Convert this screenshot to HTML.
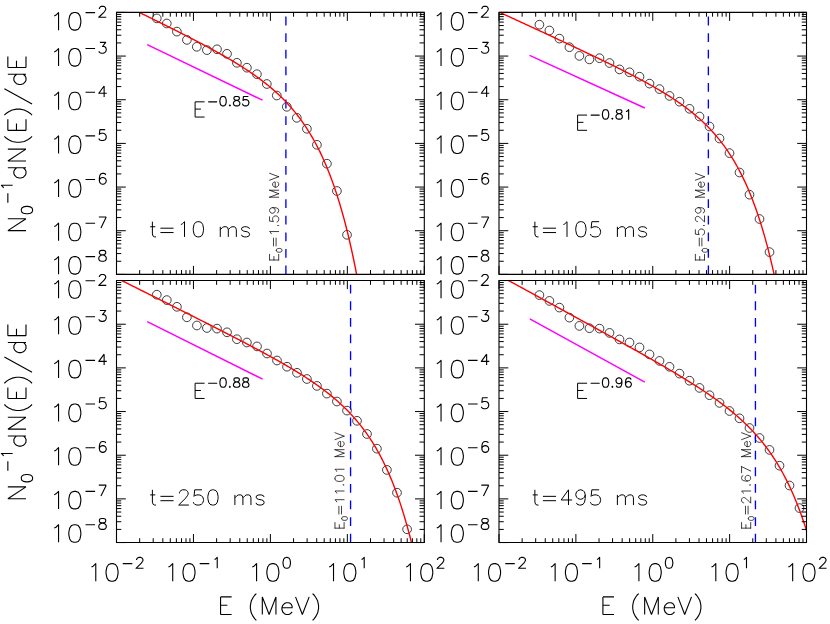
<!DOCTYPE html>
<html><head><meta charset="utf-8"><title>Spectra</title>
<style>html,body{margin:0;padding:0;background:#fff;font-family:"Liberation Sans",sans-serif;overflow:hidden}svg{display:block;position:absolute;left:0;top:0}</style>
</head><body>
<svg width="830" height="624" viewBox="0 0 830 624">
<rect width="830" height="624" fill="#fff"/>
<clipPath id="c1"><rect x="116.5" y="12.4" width="308.2" height="262"/></clipPath>
<g fill="none" stroke="#000" stroke-width="0.75" clip-path="url(#c1)"><circle cx="156.8" cy="18.4" r="4.35"/><circle cx="166.8" cy="23.5" r="4.35"/><circle cx="176.9" cy="31.6" r="4.35"/><circle cx="186.9" cy="39.9" r="4.35"/><circle cx="196.8" cy="46.8" r="4.35"/><circle cx="206.9" cy="50.1" r="4.35"/><circle cx="217" cy="49.3" r="4.35"/><circle cx="227" cy="53.8" r="4.35"/><circle cx="236.9" cy="62.8" r="4.35"/><circle cx="246.9" cy="67.7" r="4.35"/><circle cx="256.9" cy="74.2" r="4.35"/><circle cx="266.8" cy="84" r="4.35"/><circle cx="276.8" cy="95.5" r="4.35"/><circle cx="286.8" cy="106.8" r="4.35"/><circle cx="296.8" cy="117.8" r="4.35"/><circle cx="306.9" cy="128.8" r="4.35"/><circle cx="316.9" cy="144.8" r="4.35"/><circle cx="326.9" cy="163.7" r="4.35"/><circle cx="336.9" cy="191" r="4.35"/><circle cx="347" cy="234.8" r="4.35"/></g>
<line x1="285.9" y1="274.4" x2="285.9" y2="12.4" stroke="#00f" stroke-width="1.35" stroke-dasharray="8.8 7.8"/>
<line x1="147.2" y1="44.7" x2="262.5" y2="100.2" stroke="#f0f" stroke-width="1.45"/>
<path d="M112.65 -0.57 L113.87 0.02 L115.09 0.61 L116.31 1.2 L117.53 1.8 L118.74 2.39 L119.96 2.98 L121.18 3.57 L122.4 4.16 L123.62 4.76 L124.83 5.35 L126.05 5.94 L127.27 6.54 L128.49 7.13 L129.71 7.72 L130.92 8.32 L132.14 8.91 L133.36 9.51 L134.58 10.1 L135.8 10.7 L137.02 11.29 L138.23 11.89 L139.45 12.49 L140.67 13.08 L141.89 13.68 L143.11 14.28 L144.32 14.87 L145.54 15.47 L146.76 16.07 L147.98 16.67 L149.2 17.27 L150.41 17.87 L151.63 18.47 L152.85 19.07 L154.07 19.67 L155.29 20.27 L156.51 20.87 L157.72 21.47 L158.94 22.07 L160.16 22.68 L161.38 23.28 L162.6 23.89 L163.81 24.49 L165.03 25.1 L166.25 25.7 L167.47 26.31 L168.69 26.92 L169.9 27.53 L171.12 28.14 L172.34 28.75 L173.56 29.36 L174.78 29.97 L176 30.58 L177.21 31.2 L178.43 31.81 L179.65 32.43 L180.87 33.04 L182.09 33.66 L183.3 34.28 L184.52 34.9 L185.74 35.52 L186.96 36.15 L188.18 36.77 L189.39 37.39 L190.61 38.02 L191.83 38.65 L193.05 39.28 L194.27 39.91 L195.49 40.54 L196.7 41.18 L197.92 41.81 L199.14 42.45 L200.36 43.09 L201.58 43.73 L202.79 44.38 L204.01 45.02 L205.23 45.67 L206.45 46.32 L207.67 46.98 L208.88 47.63 L210.1 48.29 L211.32 48.95 L212.54 49.61 L213.76 50.28 L214.98 50.95 L216.19 51.62 L217.41 52.3 L218.63 52.97 L219.85 53.65 L221.07 54.34 L222.28 55.03 L223.5 55.72 L224.72 56.42 L225.94 57.12 L227.16 57.82 L228.37 58.53 L229.59 59.25 L230.81 59.96 L232.03 60.69 L233.25 61.41 L234.47 62.15 L235.68 62.89 L236.9 63.63 L238.12 64.38 L239.34 65.14 L240.56 65.9 L241.77 66.67 L242.99 67.44 L244.21 68.23 L245.43 69.02 L246.65 69.81 L247.86 70.62 L249.08 71.43 L250.3 72.25 L251.52 73.08 L252.74 73.92 L253.96 74.77 L255.17 75.63 L256.39 76.5 L257.61 77.38 L258.83 78.27 L260.05 79.17 L261.26 80.08 L262.48 81 L263.7 81.94 L264.92 82.89 L266.14 83.85 L267.35 84.83 L268.57 85.82 L269.79 86.83 L271.01 87.85 L272.23 88.89 L273.45 89.94 L274.66 91.02 L275.88 92.11 L277.1 93.22 L278.32 94.35 L279.54 95.49 L280.75 96.66 L281.97 97.86 L283.19 99.07 L284.41 100.31 L285.63 101.57 L286.84 102.85 L288.06 104.16 L289.28 105.5 L290.5 106.87 L291.72 108.27 L292.94 109.69 L294.15 111.15 L295.37 112.64 L296.59 114.16 L297.81 115.72 L299.03 117.31 L300.24 118.94 L301.46 120.61 L302.68 122.32 L303.9 124.07 L305.12 125.86 L306.33 127.7 L307.55 129.59 L308.77 131.52 L309.99 133.5 L311.21 135.54 L312.43 137.63 L313.64 139.77 L314.86 141.97 L316.08 144.24 L317.3 146.56 L318.52 148.95 L319.73 151.41 L320.95 153.93 L322.17 156.53 L323.39 159.2 L324.61 161.95 L325.82 164.78 L327.04 167.69 L328.26 170.69 L329.48 173.78 L330.7 176.96 L331.92 180.24 L333.13 183.62 L334.35 187.1 L335.57 190.68 L336.79 194.38 L338.01 198.2 L339.22 202.14 L340.44 206.2 L341.66 210.38 L342.88 214.71 L344.1 219.17 L345.31 223.77 L346.53 228.52 L347.75 233.43 L348.97 238.5 L350.19 243.74 L351.41 249.14 L352.62 254.73 L353.84 260.5 L355.06 266.47 L356.28 272.63 L357.5 279 L358.71 285.59 L359.93 292.4 L361.15 299.44 L362.37 306.72 L363.59 314.24 L364.8 322.03" fill="none" stroke="#f00" stroke-width="1.4" stroke-linejoin="round" clip-path="url(#c1)"/>
<clipPath id="c2"><rect x="499" y="12.4" width="307.9" height="262"/></clipPath>
<g fill="none" stroke="#000" stroke-width="0.75" clip-path="url(#c2)"><circle cx="539.4" cy="24.7" r="4.35"/><circle cx="549.4" cy="30.5" r="4.35"/><circle cx="559.4" cy="38.6" r="4.35"/><circle cx="569.4" cy="47.2" r="4.35"/><circle cx="579.4" cy="55.9" r="4.35"/><circle cx="589.4" cy="59.4" r="4.35"/><circle cx="599.5" cy="58.2" r="4.35"/><circle cx="609.5" cy="63" r="4.35"/><circle cx="619.5" cy="69.4" r="4.35"/><circle cx="629.5" cy="72.3" r="4.35"/><circle cx="639.5" cy="76.7" r="4.35"/><circle cx="649.5" cy="83.6" r="4.35"/><circle cx="659.5" cy="89.1" r="4.35"/><circle cx="669.5" cy="95.9" r="4.35"/><circle cx="679.5" cy="101.7" r="4.35"/><circle cx="689.5" cy="108.8" r="4.35"/><circle cx="699.5" cy="116.5" r="4.35"/><circle cx="709.5" cy="126.5" r="4.35"/><circle cx="719.5" cy="138.5" r="4.35"/><circle cx="729.5" cy="153.1" r="4.35"/><circle cx="739.5" cy="172.5" r="4.35"/><circle cx="749.5" cy="194.7" r="4.35"/><circle cx="759.5" cy="219" r="4.35"/><circle cx="769.5" cy="252.1" r="4.35"/></g>
<line x1="708.37" y1="274.4" x2="708.37" y2="12.4" stroke="#00f" stroke-width="1.35" stroke-dasharray="8.8 7.8"/>
<line x1="529.6" y1="55.3" x2="644.8" y2="108" stroke="#f0f" stroke-width="1.45"/>
<path d="M495.16 10.23 L496.37 10.79 L497.59 11.35 L498.81 11.91 L500.02 12.47 L501.24 13.03 L502.46 13.59 L503.67 14.16 L504.89 14.72 L506.11 15.28 L507.33 15.84 L508.54 16.4 L509.76 16.96 L510.98 17.52 L512.19 18.09 L513.41 18.65 L514.63 19.21 L515.84 19.77 L517.06 20.33 L518.28 20.9 L519.5 21.46 L520.71 22.02 L521.93 22.58 L523.15 23.15 L524.36 23.71 L525.58 24.27 L526.8 24.83 L528.01 25.4 L529.23 25.96 L530.45 26.52 L531.66 27.09 L532.88 27.65 L534.1 28.21 L535.32 28.78 L536.53 29.34 L537.75 29.91 L538.97 30.47 L540.18 31.03 L541.4 31.6 L542.62 32.16 L543.83 32.73 L545.05 33.29 L546.27 33.86 L547.48 34.42 L548.7 34.99 L549.92 35.56 L551.14 36.12 L552.35 36.69 L553.57 37.25 L554.79 37.82 L556 38.39 L557.22 38.96 L558.44 39.52 L559.65 40.09 L560.87 40.66 L562.09 41.23 L563.3 41.8 L564.52 42.36 L565.74 42.93 L566.96 43.5 L568.17 44.07 L569.39 44.64 L570.61 45.22 L571.82 45.79 L573.04 46.36 L574.26 46.93 L575.47 47.5 L576.69 48.08 L577.91 48.65 L579.13 49.22 L580.34 49.8 L581.56 50.37 L582.78 50.95 L583.99 51.53 L585.21 52.1 L586.43 52.68 L587.64 53.26 L588.86 53.84 L590.08 54.42 L591.29 55 L592.51 55.58 L593.73 56.16 L594.95 56.74 L596.16 57.33 L597.38 57.91 L598.6 58.5 L599.81 59.08 L601.03 59.67 L602.25 60.26 L603.46 60.85 L604.68 61.44 L605.9 62.03 L607.11 62.62 L608.33 63.21 L609.55 63.81 L610.77 64.41 L611.98 65 L613.2 65.6 L614.42 66.2 L615.63 66.81 L616.85 67.41 L618.07 68.01 L619.28 68.62 L620.5 69.23 L621.72 69.84 L622.93 70.45 L624.15 71.07 L625.37 71.68 L626.59 72.3 L627.8 72.92 L629.02 73.55 L630.24 74.17 L631.45 74.8 L632.67 75.43 L633.89 76.06 L635.1 76.7 L636.32 77.34 L637.54 77.98 L638.76 78.62 L639.97 79.27 L641.19 79.92 L642.41 80.57 L643.62 81.23 L644.84 81.89 L646.06 82.56 L647.27 83.23 L648.49 83.9 L649.71 84.58 L650.92 85.26 L652.14 85.94 L653.36 86.63 L654.58 87.33 L655.79 88.03 L657.01 88.74 L658.23 89.45 L659.44 90.16 L660.66 90.89 L661.88 91.61 L663.09 92.35 L664.31 93.09 L665.53 93.84 L666.74 94.59 L667.96 95.36 L669.18 96.13 L670.4 96.9 L671.61 97.69 L672.83 98.48 L674.05 99.29 L675.26 100.1 L676.48 100.92 L677.7 101.75 L678.91 102.59 L680.13 103.44 L681.35 104.3 L682.57 105.18 L683.78 106.06 L685 106.96 L686.22 107.87 L687.43 108.79 L688.65 109.73 L689.87 110.68 L691.08 111.64 L692.3 112.62 L693.52 113.62 L694.73 114.63 L695.95 115.66 L697.17 116.7 L698.39 117.76 L699.6 118.85 L700.82 119.95 L702.04 121.07 L703.25 122.21 L704.47 123.38 L705.69 124.56 L706.9 125.77 L708.12 127 L709.34 128.26 L710.55 129.55 L711.77 130.86 L712.99 132.2 L714.21 133.57 L715.42 134.97 L716.64 136.4 L717.86 137.86 L719.07 139.35 L720.29 140.88 L721.51 142.45 L722.72 144.05 L723.94 145.7 L725.16 147.38 L726.37 149.1 L727.59 150.87 L728.81 152.68 L730.03 154.54 L731.24 156.45 L732.46 158.4 L733.68 160.41 L734.89 162.47 L736.11 164.59 L737.33 166.77 L738.54 169 L739.76 171.3 L740.98 173.67 L742.2 176.1 L743.41 178.59 L744.63 181.17 L745.85 183.81 L747.06 186.53 L748.28 189.34 L749.5 192.23 L750.71 195.2 L751.93 198.26 L753.15 201.42 L754.36 204.67 L755.58 208.02 L756.8 211.48 L758.02 215.04 L759.23 218.71 L760.45 222.5 L761.67 226.41 L762.88 230.45 L764.1 234.61 L765.32 238.91 L766.53 243.35 L767.75 247.93 L768.97 252.66 L770.18 257.54 L771.4 262.58 L772.62 267.8 L773.84 273.18 L775.05 278.74 L776.27 284.49 L777.49 290.43 L778.7 296.57 L779.92 302.92 L781.14 309.48 L782.35 316.27" fill="none" stroke="#f00" stroke-width="1.4" stroke-linejoin="round" clip-path="url(#c2)"/>
<clipPath id="c3"><rect x="116.5" y="280.55" width="308.2" height="262"/></clipPath>
<g fill="none" stroke="#000" stroke-width="0.75" clip-path="url(#c3)"><circle cx="156.8" cy="294.7" r="4.35"/><circle cx="166.8" cy="300.1" r="4.35"/><circle cx="176.9" cy="306.8" r="4.35"/><circle cx="186.9" cy="317.3" r="4.35"/><circle cx="196.9" cy="325.5" r="4.35"/><circle cx="206.9" cy="328" r="4.35"/><circle cx="217" cy="328.6" r="4.35"/><circle cx="227" cy="332.3" r="4.35"/><circle cx="236.9" cy="339.2" r="4.35"/><circle cx="246.9" cy="342.5" r="4.35"/><circle cx="257" cy="346.4" r="4.35"/><circle cx="267" cy="353.5" r="4.35"/><circle cx="277" cy="360.5" r="4.35"/><circle cx="287" cy="366.7" r="4.35"/><circle cx="297" cy="372.8" r="4.35"/><circle cx="306.9" cy="379" r="4.35"/><circle cx="316.9" cy="385.9" r="4.35"/><circle cx="326.9" cy="393.6" r="4.35"/><circle cx="336.9" cy="401.5" r="4.35"/><circle cx="347" cy="410.6" r="4.35"/><circle cx="357" cy="420.8" r="4.35"/><circle cx="367" cy="434" r="4.35"/><circle cx="376.9" cy="448.7" r="4.35"/><circle cx="386.9" cy="469.9" r="4.35"/><circle cx="397" cy="492.7" r="4.35"/><circle cx="407.1" cy="529.3" r="4.35"/></g>
<line x1="350.57" y1="542.55" x2="350.57" y2="280.55" stroke="#00f" stroke-width="1.35" stroke-dasharray="8.8 7.8"/>
<line x1="147.2" y1="321.7" x2="262.7" y2="379.2" stroke="#f0f" stroke-width="1.45"/>
<path d="M112.65 276.02 L113.87 276.63 L115.09 277.24 L116.31 277.85 L117.53 278.46 L118.74 279.07 L119.96 279.68 L121.18 280.29 L122.4 280.9 L123.62 281.5 L124.83 282.11 L126.05 282.72 L127.27 283.33 L128.49 283.94 L129.71 284.55 L130.92 285.16 L132.14 285.77 L133.36 286.38 L134.58 286.99 L135.8 287.6 L137.02 288.21 L138.23 288.82 L139.45 289.43 L140.67 290.04 L141.89 290.64 L143.11 291.25 L144.32 291.86 L145.54 292.47 L146.76 293.08 L147.98 293.69 L149.2 294.3 L150.41 294.91 L151.63 295.52 L152.85 296.13 L154.07 296.74 L155.29 297.35 L156.51 297.96 L157.72 298.57 L158.94 299.19 L160.16 299.8 L161.38 300.41 L162.6 301.02 L163.81 301.63 L165.03 302.24 L166.25 302.85 L167.47 303.46 L168.69 304.07 L169.9 304.68 L171.12 305.3 L172.34 305.91 L173.56 306.52 L174.78 307.13 L176 307.74 L177.21 308.35 L178.43 308.97 L179.65 309.58 L180.87 310.19 L182.09 310.8 L183.3 311.42 L184.52 312.03 L185.74 312.64 L186.96 313.26 L188.18 313.87 L189.39 314.48 L190.61 315.1 L191.83 315.71 L193.05 316.33 L194.27 316.94 L195.49 317.56 L196.7 318.17 L197.92 318.79 L199.14 319.4 L200.36 320.02 L201.58 320.63 L202.79 321.25 L204.01 321.87 L205.23 322.48 L206.45 323.1 L207.67 323.72 L208.88 324.34 L210.1 324.96 L211.32 325.57 L212.54 326.19 L213.76 326.81 L214.98 327.43 L216.19 328.05 L217.41 328.68 L218.63 329.3 L219.85 329.92 L221.07 330.54 L222.28 331.16 L223.5 331.79 L224.72 332.41 L225.94 333.04 L227.16 333.66 L228.37 334.29 L229.59 334.91 L230.81 335.54 L232.03 336.17 L233.25 336.8 L234.47 337.43 L235.68 338.06 L236.9 338.69 L238.12 339.32 L239.34 339.95 L240.56 340.59 L241.77 341.22 L242.99 341.86 L244.21 342.49 L245.43 343.13 L246.65 343.77 L247.86 344.41 L249.08 345.05 L250.3 345.69 L251.52 346.33 L252.74 346.98 L253.96 347.62 L255.17 348.27 L256.39 348.92 L257.61 349.57 L258.83 350.22 L260.05 350.88 L261.26 351.53 L262.48 352.19 L263.7 352.85 L264.92 353.51 L266.14 354.17 L267.35 354.84 L268.57 355.5 L269.79 356.17 L271.01 356.84 L272.23 357.52 L273.45 358.19 L274.66 358.87 L275.88 359.55 L277.1 360.23 L278.32 360.92 L279.54 361.61 L280.75 362.3 L281.97 363 L283.19 363.7 L284.41 364.4 L285.63 365.1 L286.84 365.81 L288.06 366.53 L289.28 367.24 L290.5 367.96 L291.72 368.69 L292.94 369.42 L294.15 370.15 L295.37 370.89 L296.59 371.63 L297.81 372.38 L299.03 373.13 L300.24 373.89 L301.46 374.66 L302.68 375.43 L303.9 376.2 L305.12 376.99 L306.33 377.78 L307.55 378.57 L308.77 379.37 L309.99 380.18 L311.21 381 L312.43 381.83 L313.64 382.66 L314.86 383.5 L316.08 384.35 L317.3 385.21 L318.52 386.08 L319.73 386.96 L320.95 387.85 L322.17 388.74 L323.39 389.65 L324.61 390.57 L325.82 391.51 L327.04 392.45 L328.26 393.41 L329.48 394.38 L330.7 395.36 L331.92 396.36 L333.13 397.37 L334.35 398.39 L335.57 399.43 L336.79 400.49 L338.01 401.57 L339.22 402.66 L340.44 403.77 L341.66 404.9 L342.88 406.04 L344.1 407.21 L345.31 408.4 L346.53 409.61 L347.75 410.84 L348.97 412.1 L350.19 413.38 L351.41 414.68 L352.62 416.01 L353.84 417.37 L355.06 418.75 L356.28 420.17 L357.5 421.61 L358.71 423.09 L359.93 424.59 L361.15 426.13 L362.37 427.71 L363.59 429.32 L364.8 430.97 L366.02 432.65 L367.24 434.38 L368.46 436.15 L369.68 437.96 L370.9 439.81 L372.11 441.71 L373.33 443.66 L374.55 445.66 L375.77 447.71 L376.99 449.82 L378.2 451.98 L379.42 454.2 L380.64 456.48 L381.86 458.82 L383.08 461.22 L384.29 463.69 L385.51 466.23 L386.73 468.84 L387.95 471.53 L389.17 474.29 L390.39 477.13 L391.6 480.06 L392.82 483.07 L394.04 486.17 L395.26 489.37 L396.48 492.66 L397.69 496.05 L398.91 499.54 L400.13 503.14 L401.35 506.85 L402.57 510.67 L403.78 514.62 L405 518.69 L406.22 522.89 L407.44 527.22 L408.66 531.69 L409.88 536.3 L411.09 541.06 L412.31 545.98 L413.53 551.05 L414.75 556.29 L415.97 561.7 L417.18 567.3 L418.4 573.07 L419.62 579.04 L420.84 585.21" fill="none" stroke="#f00" stroke-width="1.4" stroke-linejoin="round" clip-path="url(#c3)"/>
<clipPath id="c4"><rect x="499" y="280.55" width="307.9" height="262"/></clipPath>
<g fill="none" stroke="#000" stroke-width="0.75" clip-path="url(#c4)"><circle cx="539.4" cy="295.1" r="4.35"/><circle cx="549.4" cy="300.9" r="4.35"/><circle cx="559.4" cy="307.6" r="4.35"/><circle cx="569.4" cy="317.6" r="4.35"/><circle cx="579.4" cy="325.9" r="4.35"/><circle cx="589.5" cy="328.2" r="4.35"/><circle cx="599.5" cy="328.6" r="4.35"/><circle cx="609.5" cy="332.9" r="4.35"/><circle cx="619.5" cy="339.4" r="4.35"/><circle cx="629.5" cy="342.5" r="4.35"/><circle cx="639.5" cy="347.4" r="4.35"/><circle cx="649.5" cy="354.4" r="4.35"/><circle cx="659.5" cy="360.9" r="4.35"/><circle cx="669.5" cy="366.8" r="4.35"/><circle cx="679.5" cy="373.6" r="4.35"/><circle cx="689.5" cy="380.7" r="4.35"/><circle cx="699.5" cy="387.9" r="4.35"/><circle cx="709.5" cy="395.2" r="4.35"/><circle cx="719.5" cy="402.9" r="4.35"/><circle cx="729.5" cy="411" r="4.35"/><circle cx="739.5" cy="418.3" r="4.35"/><circle cx="749.5" cy="428" r="4.35"/><circle cx="759.5" cy="438" r="4.35"/><circle cx="769.5" cy="449.9" r="4.35"/><circle cx="779.5" cy="465.7" r="4.35"/><circle cx="789.5" cy="485.5" r="4.35"/><circle cx="799.5" cy="508.1" r="4.35"/></g>
<line x1="755.44" y1="542.55" x2="755.44" y2="280.55" stroke="#00f" stroke-width="1.35" stroke-dasharray="8.8 7.8"/>
<line x1="529.8" y1="318.8" x2="644.8" y2="382.1" stroke="#f0f" stroke-width="1.45"/>
<path d="M495.16 273.22 L496.37 273.89 L497.59 274.55 L498.81 275.21 L500.02 275.88 L501.24 276.54 L502.46 277.21 L503.67 277.87 L504.89 278.53 L506.11 279.2 L507.33 279.86 L508.54 280.53 L509.76 281.19 L510.98 281.85 L512.19 282.52 L513.41 283.18 L514.63 283.85 L515.84 284.51 L517.06 285.17 L518.28 285.84 L519.5 286.5 L520.71 287.17 L521.93 287.83 L523.15 288.49 L524.36 289.16 L525.58 289.82 L526.8 290.49 L528.01 291.15 L529.23 291.82 L530.45 292.48 L531.66 293.15 L532.88 293.81 L534.1 294.47 L535.32 295.14 L536.53 295.8 L537.75 296.47 L538.97 297.13 L540.18 297.8 L541.4 298.46 L542.62 299.13 L543.83 299.79 L545.05 300.46 L546.27 301.12 L547.48 301.79 L548.7 302.45 L549.92 303.12 L551.14 303.78 L552.35 304.45 L553.57 305.11 L554.79 305.78 L556 306.44 L557.22 307.11 L558.44 307.77 L559.65 308.44 L560.87 309.1 L562.09 309.77 L563.3 310.44 L564.52 311.1 L565.74 311.77 L566.96 312.43 L568.17 313.1 L569.39 313.77 L570.61 314.43 L571.82 315.1 L573.04 315.76 L574.26 316.43 L575.47 317.1 L576.69 317.76 L577.91 318.43 L579.13 319.1 L580.34 319.77 L581.56 320.43 L582.78 321.1 L583.99 321.77 L585.21 322.44 L586.43 323.1 L587.64 323.77 L588.86 324.44 L590.08 325.11 L591.29 325.78 L592.51 326.45 L593.73 327.11 L594.95 327.78 L596.16 328.45 L597.38 329.12 L598.6 329.79 L599.81 330.46 L601.03 331.13 L602.25 331.8 L603.46 332.47 L604.68 333.15 L605.9 333.82 L607.11 334.49 L608.33 335.16 L609.55 335.83 L610.77 336.5 L611.98 337.18 L613.2 337.85 L614.42 338.52 L615.63 339.2 L616.85 339.87 L618.07 340.55 L619.28 341.22 L620.5 341.9 L621.72 342.57 L622.93 343.25 L624.15 343.93 L625.37 344.6 L626.59 345.28 L627.8 345.96 L629.02 346.64 L630.24 347.32 L631.45 348 L632.67 348.68 L633.89 349.36 L635.1 350.04 L636.32 350.73 L637.54 351.41 L638.76 352.09 L639.97 352.78 L641.19 353.46 L642.41 354.15 L643.62 354.84 L644.84 355.53 L646.06 356.22 L647.27 356.91 L648.49 357.6 L649.71 358.29 L650.92 358.98 L652.14 359.68 L653.36 360.37 L654.58 361.07 L655.79 361.77 L657.01 362.47 L658.23 363.17 L659.44 363.87 L660.66 364.57 L661.88 365.28 L663.09 365.98 L664.31 366.69 L665.53 367.4 L666.74 368.11 L667.96 368.83 L669.18 369.54 L670.4 370.26 L671.61 370.98 L672.83 371.7 L674.05 372.42 L675.26 373.14 L676.48 373.87 L677.7 374.6 L678.91 375.33 L680.13 376.07 L681.35 376.81 L682.57 377.55 L683.78 378.29 L685 379.03 L686.22 379.78 L687.43 380.54 L688.65 381.29 L689.87 382.05 L691.08 382.81 L692.3 383.58 L693.52 384.35 L694.73 385.12 L695.95 385.9 L697.17 386.68 L698.39 387.47 L699.6 388.26 L700.82 389.06 L702.04 389.86 L703.25 390.66 L704.47 391.47 L705.69 392.29 L706.9 393.11 L708.12 393.94 L709.34 394.77 L710.55 395.61 L711.77 396.46 L712.99 397.32 L714.21 398.18 L715.42 399.04 L716.64 399.92 L717.86 400.8 L719.07 401.7 L720.29 402.6 L721.51 403.51 L722.72 404.42 L723.94 405.35 L725.16 406.29 L726.37 407.24 L727.59 408.2 L728.81 409.16 L730.03 410.15 L731.24 411.14 L732.46 412.14 L733.68 413.16 L734.89 414.19 L736.11 415.23 L737.33 416.29 L738.54 417.37 L739.76 418.45 L740.98 419.56 L742.2 420.68 L743.41 421.81 L744.63 422.97 L745.85 424.14 L747.06 425.33 L748.28 426.54 L749.5 427.78 L750.71 429.03 L751.93 430.3 L753.15 431.6 L754.36 432.92 L755.58 434.27 L756.8 435.64 L758.02 437.03 L759.23 438.46 L760.45 439.91 L761.67 441.39 L762.88 442.9 L764.1 444.45 L765.32 446.02 L766.53 447.63 L767.75 449.28 L768.97 450.96 L770.18 452.68 L771.4 454.44 L772.62 456.24 L773.84 458.08 L775.05 459.96 L776.27 461.89 L777.49 463.87 L778.7 465.89 L779.92 467.97 L781.14 470.1 L782.35 472.28 L783.57 474.52 L784.79 476.82 L786 479.18 L787.22 481.6 L788.44 484.09 L789.66 486.64 L790.87 489.27 L792.09 491.97 L793.31 494.74 L794.52 497.59 L795.74 500.53 L796.96 503.54 L798.17 506.65 L799.39 509.84 L800.61 513.13 L801.83 516.52 L803.04 520.01 L804.26 523.6 L805.48 527.3 L806.69 531.12 L807.91 535.05 L809.13 539.1 L810.34 543.28" fill="none" stroke="#f00" stroke-width="1.4" stroke-linejoin="round" clip-path="url(#c4)"/>
<path d="M116.5 12.4H424.3V274.4H116.5ZM499 12.4H806.5V274.4H499ZM116.5 280.55H424.3V542.55H116.5ZM499 280.55H806.5V542.55H499Z" fill="none" stroke="#000" stroke-width="1.1" stroke-linejoin="miter"/>
<path d="M116.5 12.4v8.5M116.5 274.4v-8.5M139.66 12.4v4.3M139.66 274.4v-4.3M153.21 12.4v4.3M153.21 274.4v-4.3M162.83 12.4v4.3M162.83 274.4v-4.3M170.29 12.4v4.3M170.29 274.4v-4.3M176.38 12.4v4.3M176.38 274.4v-4.3M181.53 12.4v4.3M181.53 274.4v-4.3M185.99 12.4v4.3M185.99 274.4v-4.3M189.93 12.4v4.3M189.93 274.4v-4.3M193.45 12.4v8.5M193.45 274.4v-8.5M216.61 12.4v4.3M216.61 274.4v-4.3M230.16 12.4v4.3M230.16 274.4v-4.3M239.78 12.4v4.3M239.78 274.4v-4.3M247.24 12.4v4.3M247.24 274.4v-4.3M253.33 12.4v4.3M253.33 274.4v-4.3M258.48 12.4v4.3M258.48 274.4v-4.3M262.94 12.4v4.3M262.94 274.4v-4.3M266.88 12.4v4.3M266.88 274.4v-4.3M270.4 12.4v8.5M270.4 274.4v-8.5M293.56 12.4v4.3M293.56 274.4v-4.3M307.11 12.4v4.3M307.11 274.4v-4.3M316.73 12.4v4.3M316.73 274.4v-4.3M324.19 12.4v4.3M324.19 274.4v-4.3M330.28 12.4v4.3M330.28 274.4v-4.3M335.43 12.4v4.3M335.43 274.4v-4.3M339.89 12.4v4.3M339.89 274.4v-4.3M343.83 12.4v4.3M343.83 274.4v-4.3M347.35 12.4v8.5M347.35 274.4v-8.5M370.51 12.4v4.3M370.51 274.4v-4.3M384.06 12.4v4.3M384.06 274.4v-4.3M393.68 12.4v4.3M393.68 274.4v-4.3M401.14 12.4v4.3M401.14 274.4v-4.3M407.23 12.4v4.3M407.23 274.4v-4.3M412.38 12.4v4.3M412.38 274.4v-4.3M416.84 12.4v4.3M416.84 274.4v-4.3M420.78 12.4v4.3M420.78 274.4v-4.3M424.3 12.4v8.5M424.3 274.4v-8.5M116.5 274.4h9.3M424.3 274.4h-9.3M116.5 261.26h4.75M424.3 261.26h-4.75M116.5 253.57h4.75M424.3 253.57h-4.75M116.5 248.11h4.75M424.3 248.11h-4.75M116.5 243.88h4.75M424.3 243.88h-4.75M116.5 240.42h4.75M424.3 240.42h-4.75M116.5 237.5h4.75M424.3 237.5h-4.75M116.5 234.97h4.75M424.3 234.97h-4.75M116.5 232.73h4.75M424.3 232.73h-4.75M116.5 230.73h9.3M424.3 230.73h-9.3M116.5 217.59h4.75M424.3 217.59h-4.75M116.5 209.9h4.75M424.3 209.9h-4.75M116.5 204.44h4.75M424.3 204.44h-4.75M116.5 200.21h4.75M424.3 200.21h-4.75M116.5 196.75h4.75M424.3 196.75h-4.75M116.5 193.83h4.75M424.3 193.83h-4.75M116.5 191.3h4.75M424.3 191.3h-4.75M116.5 189.06h4.75M424.3 189.06h-4.75M116.5 187.07h9.3M424.3 187.07h-9.3M116.5 173.92h4.75M424.3 173.92h-4.75M116.5 166.23h4.75M424.3 166.23h-4.75M116.5 160.78h4.75M424.3 160.78h-4.75M116.5 156.54h4.75M424.3 156.54h-4.75M116.5 153.09h4.75M424.3 153.09h-4.75M116.5 150.16h4.75M424.3 150.16h-4.75M116.5 147.63h4.75M424.3 147.63h-4.75M116.5 145.4h4.75M424.3 145.4h-4.75M116.5 143.4h9.3M424.3 143.4h-9.3M116.5 130.26h4.75M424.3 130.26h-4.75M116.5 122.57h4.75M424.3 122.57h-4.75M116.5 117.11h4.75M424.3 117.11h-4.75M116.5 112.88h4.75M424.3 112.88h-4.75M116.5 109.42h4.75M424.3 109.42h-4.75M116.5 106.5h4.75M424.3 106.5h-4.75M116.5 103.97h4.75M424.3 103.97h-4.75M116.5 101.73h4.75M424.3 101.73h-4.75M116.5 99.73h9.3M424.3 99.73h-9.3M116.5 86.59h4.75M424.3 86.59h-4.75M116.5 78.9h4.75M424.3 78.9h-4.75M116.5 73.44h4.75M424.3 73.44h-4.75M116.5 69.21h4.75M424.3 69.21h-4.75M116.5 65.75h4.75M424.3 65.75h-4.75M116.5 62.83h4.75M424.3 62.83h-4.75M116.5 60.3h4.75M424.3 60.3h-4.75M116.5 58.06h4.75M424.3 58.06h-4.75M116.5 56.07h9.3M424.3 56.07h-9.3M116.5 42.92h4.75M424.3 42.92h-4.75M116.5 35.23h4.75M424.3 35.23h-4.75M116.5 29.78h4.75M424.3 29.78h-4.75M116.5 25.54h4.75M424.3 25.54h-4.75M116.5 22.09h4.75M424.3 22.09h-4.75M116.5 19.16h4.75M424.3 19.16h-4.75M116.5 16.63h4.75M424.3 16.63h-4.75M116.5 14.4h4.75M424.3 14.4h-4.75M116.5 12.4h9.3M424.3 12.4h-9.3M499 12.4v8.5M499 274.4v-8.5M522.14 12.4v4.3M522.14 274.4v-4.3M535.68 12.4v4.3M535.68 274.4v-4.3M545.28 12.4v4.3M545.28 274.4v-4.3M552.73 12.4v4.3M552.73 274.4v-4.3M558.82 12.4v4.3M558.82 274.4v-4.3M563.97 12.4v4.3M563.97 274.4v-4.3M568.43 12.4v4.3M568.43 274.4v-4.3M572.36 12.4v4.3M572.36 274.4v-4.3M575.88 12.4v8.5M575.88 274.4v-8.5M599.02 12.4v4.3M599.02 274.4v-4.3M612.55 12.4v4.3M612.55 274.4v-4.3M622.16 12.4v4.3M622.16 274.4v-4.3M629.61 12.4v4.3M629.61 274.4v-4.3M635.7 12.4v4.3M635.7 274.4v-4.3M640.84 12.4v4.3M640.84 274.4v-4.3M645.3 12.4v4.3M645.3 274.4v-4.3M649.23 12.4v4.3M649.23 274.4v-4.3M652.75 12.4v8.5M652.75 274.4v-8.5M675.89 12.4v4.3M675.89 274.4v-4.3M689.43 12.4v4.3M689.43 274.4v-4.3M699.03 12.4v4.3M699.03 274.4v-4.3M706.48 12.4v4.3M706.48 274.4v-4.3M712.57 12.4v4.3M712.57 274.4v-4.3M717.72 12.4v4.3M717.72 274.4v-4.3M722.18 12.4v4.3M722.18 274.4v-4.3M726.11 12.4v4.3M726.11 274.4v-4.3M729.62 12.4v8.5M729.62 274.4v-8.5M752.77 12.4v4.3M752.77 274.4v-4.3M766.3 12.4v4.3M766.3 274.4v-4.3M775.91 12.4v4.3M775.91 274.4v-4.3M783.36 12.4v4.3M783.36 274.4v-4.3M789.45 12.4v4.3M789.45 274.4v-4.3M794.59 12.4v4.3M794.59 274.4v-4.3M799.05 12.4v4.3M799.05 274.4v-4.3M802.98 12.4v4.3M802.98 274.4v-4.3M806.5 12.4v8.5M806.5 274.4v-8.5M499 274.4h9.3M806.5 274.4h-9.3M499 261.26h4.75M806.5 261.26h-4.75M499 253.57h4.75M806.5 253.57h-4.75M499 248.11h4.75M806.5 248.11h-4.75M499 243.88h4.75M806.5 243.88h-4.75M499 240.42h4.75M806.5 240.42h-4.75M499 237.5h4.75M806.5 237.5h-4.75M499 234.97h4.75M806.5 234.97h-4.75M499 232.73h4.75M806.5 232.73h-4.75M499 230.73h9.3M806.5 230.73h-9.3M499 217.59h4.75M806.5 217.59h-4.75M499 209.9h4.75M806.5 209.9h-4.75M499 204.44h4.75M806.5 204.44h-4.75M499 200.21h4.75M806.5 200.21h-4.75M499 196.75h4.75M806.5 196.75h-4.75M499 193.83h4.75M806.5 193.83h-4.75M499 191.3h4.75M806.5 191.3h-4.75M499 189.06h4.75M806.5 189.06h-4.75M499 187.07h9.3M806.5 187.07h-9.3M499 173.92h4.75M806.5 173.92h-4.75M499 166.23h4.75M806.5 166.23h-4.75M499 160.78h4.75M806.5 160.78h-4.75M499 156.54h4.75M806.5 156.54h-4.75M499 153.09h4.75M806.5 153.09h-4.75M499 150.16h4.75M806.5 150.16h-4.75M499 147.63h4.75M806.5 147.63h-4.75M499 145.4h4.75M806.5 145.4h-4.75M499 143.4h9.3M806.5 143.4h-9.3M499 130.26h4.75M806.5 130.26h-4.75M499 122.57h4.75M806.5 122.57h-4.75M499 117.11h4.75M806.5 117.11h-4.75M499 112.88h4.75M806.5 112.88h-4.75M499 109.42h4.75M806.5 109.42h-4.75M499 106.5h4.75M806.5 106.5h-4.75M499 103.97h4.75M806.5 103.97h-4.75M499 101.73h4.75M806.5 101.73h-4.75M499 99.73h9.3M806.5 99.73h-9.3M499 86.59h4.75M806.5 86.59h-4.75M499 78.9h4.75M806.5 78.9h-4.75M499 73.44h4.75M806.5 73.44h-4.75M499 69.21h4.75M806.5 69.21h-4.75M499 65.75h4.75M806.5 65.75h-4.75M499 62.83h4.75M806.5 62.83h-4.75M499 60.3h4.75M806.5 60.3h-4.75M499 58.06h4.75M806.5 58.06h-4.75M499 56.07h9.3M806.5 56.07h-9.3M499 42.92h4.75M806.5 42.92h-4.75M499 35.23h4.75M806.5 35.23h-4.75M499 29.78h4.75M806.5 29.78h-4.75M499 25.54h4.75M806.5 25.54h-4.75M499 22.09h4.75M806.5 22.09h-4.75M499 19.16h4.75M806.5 19.16h-4.75M499 16.63h4.75M806.5 16.63h-4.75M499 14.4h4.75M806.5 14.4h-4.75M499 12.4h9.3M806.5 12.4h-9.3M116.5 280.55v8.5M116.5 542.55v-8.5M139.66 280.55v4.3M139.66 542.55v-4.3M153.21 280.55v4.3M153.21 542.55v-4.3M162.83 280.55v4.3M162.83 542.55v-4.3M170.29 280.55v4.3M170.29 542.55v-4.3M176.38 280.55v4.3M176.38 542.55v-4.3M181.53 280.55v4.3M181.53 542.55v-4.3M185.99 280.55v4.3M185.99 542.55v-4.3M189.93 280.55v4.3M189.93 542.55v-4.3M193.45 280.55v8.5M193.45 542.55v-8.5M216.61 280.55v4.3M216.61 542.55v-4.3M230.16 280.55v4.3M230.16 542.55v-4.3M239.78 280.55v4.3M239.78 542.55v-4.3M247.24 280.55v4.3M247.24 542.55v-4.3M253.33 280.55v4.3M253.33 542.55v-4.3M258.48 280.55v4.3M258.48 542.55v-4.3M262.94 280.55v4.3M262.94 542.55v-4.3M266.88 280.55v4.3M266.88 542.55v-4.3M270.4 280.55v8.5M270.4 542.55v-8.5M293.56 280.55v4.3M293.56 542.55v-4.3M307.11 280.55v4.3M307.11 542.55v-4.3M316.73 280.55v4.3M316.73 542.55v-4.3M324.19 280.55v4.3M324.19 542.55v-4.3M330.28 280.55v4.3M330.28 542.55v-4.3M335.43 280.55v4.3M335.43 542.55v-4.3M339.89 280.55v4.3M339.89 542.55v-4.3M343.83 280.55v4.3M343.83 542.55v-4.3M347.35 280.55v8.5M347.35 542.55v-8.5M370.51 280.55v4.3M370.51 542.55v-4.3M384.06 280.55v4.3M384.06 542.55v-4.3M393.68 280.55v4.3M393.68 542.55v-4.3M401.14 280.55v4.3M401.14 542.55v-4.3M407.23 280.55v4.3M407.23 542.55v-4.3M412.38 280.55v4.3M412.38 542.55v-4.3M416.84 280.55v4.3M416.84 542.55v-4.3M420.78 280.55v4.3M420.78 542.55v-4.3M424.3 280.55v8.5M424.3 542.55v-8.5M116.5 542.55h9.3M424.3 542.55h-9.3M116.5 529.41h4.75M424.3 529.41h-4.75M116.5 521.72h4.75M424.3 521.72h-4.75M116.5 516.26h4.75M424.3 516.26h-4.75M116.5 512.03h4.75M424.3 512.03h-4.75M116.5 508.57h4.75M424.3 508.57h-4.75M116.5 505.65h4.75M424.3 505.65h-4.75M116.5 503.12h4.75M424.3 503.12h-4.75M116.5 500.88h4.75M424.3 500.88h-4.75M116.5 498.88h9.3M424.3 498.88h-9.3M116.5 485.74h4.75M424.3 485.74h-4.75M116.5 478.05h4.75M424.3 478.05h-4.75M116.5 472.59h4.75M424.3 472.59h-4.75M116.5 468.36h4.75M424.3 468.36h-4.75M116.5 464.9h4.75M424.3 464.9h-4.75M116.5 461.98h4.75M424.3 461.98h-4.75M116.5 459.45h4.75M424.3 459.45h-4.75M116.5 457.21h4.75M424.3 457.21h-4.75M116.5 455.22h9.3M424.3 455.22h-9.3M116.5 442.07h4.75M424.3 442.07h-4.75M116.5 434.38h4.75M424.3 434.38h-4.75M116.5 428.93h4.75M424.3 428.93h-4.75M116.5 424.69h4.75M424.3 424.69h-4.75M116.5 421.24h4.75M424.3 421.24h-4.75M116.5 418.31h4.75M424.3 418.31h-4.75M116.5 415.78h4.75M424.3 415.78h-4.75M116.5 413.55h4.75M424.3 413.55h-4.75M116.5 411.55h9.3M424.3 411.55h-9.3M116.5 398.41h4.75M424.3 398.41h-4.75M116.5 390.72h4.75M424.3 390.72h-4.75M116.5 385.26h4.75M424.3 385.26h-4.75M116.5 381.03h4.75M424.3 381.03h-4.75M116.5 377.57h4.75M424.3 377.57h-4.75M116.5 374.65h4.75M424.3 374.65h-4.75M116.5 372.12h4.75M424.3 372.12h-4.75M116.5 369.88h4.75M424.3 369.88h-4.75M116.5 367.88h9.3M424.3 367.88h-9.3M116.5 354.74h4.75M424.3 354.74h-4.75M116.5 347.05h4.75M424.3 347.05h-4.75M116.5 341.59h4.75M424.3 341.59h-4.75M116.5 337.36h4.75M424.3 337.36h-4.75M116.5 333.9h4.75M424.3 333.9h-4.75M116.5 330.98h4.75M424.3 330.98h-4.75M116.5 328.45h4.75M424.3 328.45h-4.75M116.5 326.21h4.75M424.3 326.21h-4.75M116.5 324.22h9.3M424.3 324.22h-9.3M116.5 311.07h4.75M424.3 311.07h-4.75M116.5 303.38h4.75M424.3 303.38h-4.75M116.5 297.93h4.75M424.3 297.93h-4.75M116.5 293.69h4.75M424.3 293.69h-4.75M116.5 290.24h4.75M424.3 290.24h-4.75M116.5 287.31h4.75M424.3 287.31h-4.75M116.5 284.78h4.75M424.3 284.78h-4.75M116.5 282.55h4.75M424.3 282.55h-4.75M116.5 280.55h9.3M424.3 280.55h-9.3M499 280.55v8.5M499 542.55v-8.5M522.14 280.55v4.3M522.14 542.55v-4.3M535.68 280.55v4.3M535.68 542.55v-4.3M545.28 280.55v4.3M545.28 542.55v-4.3M552.73 280.55v4.3M552.73 542.55v-4.3M558.82 280.55v4.3M558.82 542.55v-4.3M563.97 280.55v4.3M563.97 542.55v-4.3M568.43 280.55v4.3M568.43 542.55v-4.3M572.36 280.55v4.3M572.36 542.55v-4.3M575.88 280.55v8.5M575.88 542.55v-8.5M599.02 280.55v4.3M599.02 542.55v-4.3M612.55 280.55v4.3M612.55 542.55v-4.3M622.16 280.55v4.3M622.16 542.55v-4.3M629.61 280.55v4.3M629.61 542.55v-4.3M635.7 280.55v4.3M635.7 542.55v-4.3M640.84 280.55v4.3M640.84 542.55v-4.3M645.3 280.55v4.3M645.3 542.55v-4.3M649.23 280.55v4.3M649.23 542.55v-4.3M652.75 280.55v8.5M652.75 542.55v-8.5M675.89 280.55v4.3M675.89 542.55v-4.3M689.43 280.55v4.3M689.43 542.55v-4.3M699.03 280.55v4.3M699.03 542.55v-4.3M706.48 280.55v4.3M706.48 542.55v-4.3M712.57 280.55v4.3M712.57 542.55v-4.3M717.72 280.55v4.3M717.72 542.55v-4.3M722.18 280.55v4.3M722.18 542.55v-4.3M726.11 280.55v4.3M726.11 542.55v-4.3M729.62 280.55v8.5M729.62 542.55v-8.5M752.77 280.55v4.3M752.77 542.55v-4.3M766.3 280.55v4.3M766.3 542.55v-4.3M775.91 280.55v4.3M775.91 542.55v-4.3M783.36 280.55v4.3M783.36 542.55v-4.3M789.45 280.55v4.3M789.45 542.55v-4.3M794.59 280.55v4.3M794.59 542.55v-4.3M799.05 280.55v4.3M799.05 542.55v-4.3M802.98 280.55v4.3M802.98 542.55v-4.3M806.5 280.55v8.5M806.5 542.55v-8.5M499 542.55h9.3M806.5 542.55h-9.3M499 529.41h4.75M806.5 529.41h-4.75M499 521.72h4.75M806.5 521.72h-4.75M499 516.26h4.75M806.5 516.26h-4.75M499 512.03h4.75M806.5 512.03h-4.75M499 508.57h4.75M806.5 508.57h-4.75M499 505.65h4.75M806.5 505.65h-4.75M499 503.12h4.75M806.5 503.12h-4.75M499 500.88h4.75M806.5 500.88h-4.75M499 498.88h9.3M806.5 498.88h-9.3M499 485.74h4.75M806.5 485.74h-4.75M499 478.05h4.75M806.5 478.05h-4.75M499 472.59h4.75M806.5 472.59h-4.75M499 468.36h4.75M806.5 468.36h-4.75M499 464.9h4.75M806.5 464.9h-4.75M499 461.98h4.75M806.5 461.98h-4.75M499 459.45h4.75M806.5 459.45h-4.75M499 457.21h4.75M806.5 457.21h-4.75M499 455.22h9.3M806.5 455.22h-9.3M499 442.07h4.75M806.5 442.07h-4.75M499 434.38h4.75M806.5 434.38h-4.75M499 428.93h4.75M806.5 428.93h-4.75M499 424.69h4.75M806.5 424.69h-4.75M499 421.24h4.75M806.5 421.24h-4.75M499 418.31h4.75M806.5 418.31h-4.75M499 415.78h4.75M806.5 415.78h-4.75M499 413.55h4.75M806.5 413.55h-4.75M499 411.55h9.3M806.5 411.55h-9.3M499 398.41h4.75M806.5 398.41h-4.75M499 390.72h4.75M806.5 390.72h-4.75M499 385.26h4.75M806.5 385.26h-4.75M499 381.03h4.75M806.5 381.03h-4.75M499 377.57h4.75M806.5 377.57h-4.75M499 374.65h4.75M806.5 374.65h-4.75M499 372.12h4.75M806.5 372.12h-4.75M499 369.88h4.75M806.5 369.88h-4.75M499 367.88h9.3M806.5 367.88h-9.3M499 354.74h4.75M806.5 354.74h-4.75M499 347.05h4.75M806.5 347.05h-4.75M499 341.59h4.75M806.5 341.59h-4.75M499 337.36h4.75M806.5 337.36h-4.75M499 333.9h4.75M806.5 333.9h-4.75M499 330.98h4.75M806.5 330.98h-4.75M499 328.45h4.75M806.5 328.45h-4.75M499 326.21h4.75M806.5 326.21h-4.75M499 324.22h9.3M806.5 324.22h-9.3M499 311.07h4.75M806.5 311.07h-4.75M499 303.38h4.75M806.5 303.38h-4.75M499 297.93h4.75M806.5 297.93h-4.75M499 293.69h4.75M806.5 293.69h-4.75M499 290.24h4.75M806.5 290.24h-4.75M499 287.31h4.75M806.5 287.31h-4.75M499 284.78h4.75M806.5 284.78h-4.75M499 282.55h4.75M806.5 282.55h-4.75M499 280.55h9.3M806.5 280.55h-9.3" fill="none" stroke="#000" stroke-width="1.0"/>
<path d="M54.27 259.92 L55.98 259.08 L58.55 256.57 L58.55 274.15M73.98 256.57 L71.41 257.41 L69.69 259.92 L68.83 264.11 L68.83 266.62 L69.69 270.8 L71.41 273.31 L73.98 274.15 L75.69 274.15 L78.26 273.31 L79.97 270.8 L80.83 266.62 L80.83 264.11 L79.97 259.92 L78.26 257.41 L75.69 256.57 L73.98 256.57M85.53 256.59 L95.09 256.59M101.47 250.36 L99.87 250.88 L99.34 251.92 L99.34 252.96 L99.87 254 L100.94 254.51 L103.06 255.03 L104.66 255.55 L105.72 256.59 L106.25 257.63 L106.25 259.18 L105.72 260.22 L105.19 260.74 L103.59 261.26 L101.47 261.26 L99.87 260.74 L99.34 260.22 L98.81 259.18 L98.81 257.63 L99.34 256.59 L100.41 255.55 L102 255.03 L104.13 254.51 L105.19 254 L105.72 252.96 L105.72 251.92 L105.19 250.88 L103.59 250.36 L101.47 250.36M54.27 226.55 L55.98 225.72 L58.55 223.21 L58.55 240.78M73.98 223.21 L71.41 224.04 L69.69 226.55 L68.83 230.74 L68.83 233.25 L69.69 237.44 L71.41 239.95 L73.98 240.78 L75.69 240.78 L78.26 239.95 L79.97 237.44 L80.83 233.25 L80.83 230.74 L79.97 226.55 L78.26 224.04 L75.69 223.21 L73.98 223.21M85.53 223.22 L95.09 223.22M106.25 217 L100.94 227.89M98.81 217 L106.25 217M54.27 182.89 L55.98 182.05 L58.55 179.54 L58.55 197.12M73.98 179.54 L71.41 180.38 L69.69 182.89 L68.83 187.07 L68.83 189.58 L69.69 193.77 L71.41 196.28 L73.98 197.12 L75.69 197.12 L78.26 196.28 L79.97 193.77 L80.83 189.58 L80.83 187.07 L79.97 182.89 L78.26 180.38 L75.69 179.54 L73.98 179.54M85.53 179.56 L95.09 179.56M105.72 174.89 L105.19 173.85 L103.59 173.33 L102.53 173.33 L100.94 173.85 L99.87 175.4 L99.34 178 L99.34 180.59 L99.87 182.67 L100.94 183.71 L102.53 184.23 L103.06 184.23 L104.66 183.71 L105.72 182.67 L106.25 181.11 L106.25 180.59 L105.72 179.04 L104.66 178 L103.06 177.48 L102.53 177.48 L100.94 178 L99.87 179.04 L99.34 180.59M54.27 139.22 L55.98 138.38 L58.55 135.87 L58.55 153.45M73.98 135.87 L71.41 136.71 L69.69 139.22 L68.83 143.41 L68.83 145.92 L69.69 150.1 L71.41 152.61 L73.98 153.45 L75.69 153.45 L78.26 152.61 L79.97 150.1 L80.83 145.92 L80.83 143.41 L79.97 139.22 L78.26 136.71 L75.69 135.87 L73.98 135.87M85.53 135.89 L95.09 135.89M105.19 129.66 L99.87 129.66 L99.34 134.33 L99.87 133.81 L101.47 133.3 L103.06 133.3 L104.66 133.81 L105.72 134.85 L106.25 136.41 L106.25 137.45 L105.72 139 L104.66 140.04 L103.06 140.56 L101.47 140.56 L99.87 140.04 L99.34 139.52 L98.81 138.48M54.27 95.55 L55.98 94.72 L58.55 92.21 L58.55 109.78M73.98 92.21 L71.41 93.04 L69.69 95.55 L68.83 99.74 L68.83 102.25 L69.69 106.44 L71.41 108.95 L73.98 109.78 L75.69 109.78 L78.26 108.95 L79.97 106.44 L80.83 102.25 L80.83 99.74 L79.97 95.55 L78.26 93.04 L75.69 92.21 L73.98 92.21M85.53 92.22 L95.09 92.22M104.13 86 L98.81 93.26 L106.78 93.26M104.13 86 L104.13 96.89M54.27 51.89 L55.98 51.05 L58.55 48.54 L58.55 66.12M73.98 48.54 L71.41 49.38 L69.69 51.89 L68.83 56.07 L68.83 58.58 L69.69 62.77 L71.41 65.28 L73.98 66.12 L75.69 66.12 L78.26 65.28 L79.97 62.77 L80.83 58.58 L80.83 56.07 L79.97 51.89 L78.26 49.38 L75.69 48.54 L73.98 48.54M85.53 48.56 L95.09 48.56M99.87 42.33 L105.72 42.33 L102.53 46.48 L104.13 46.48 L105.19 47 L105.72 47.52 L106.25 49.08 L106.25 50.11 L105.72 51.67 L104.66 52.71 L103.06 53.23 L101.47 53.23 L99.87 52.71 L99.34 52.19 L98.81 51.15M54.27 15.9 L55.98 15.06 L58.55 12.55 L58.55 30.13M73.98 12.55 L71.41 13.39 L69.69 15.9 L68.83 20.08 L68.83 22.59 L69.69 26.78 L71.41 29.29 L73.98 30.13 L75.69 30.13 L78.26 29.29 L79.97 26.78 L80.83 22.59 L80.83 20.08 L79.97 15.9 L78.26 13.39 L75.69 12.55 L73.98 12.55M85.53 12.57 L95.09 12.57M99.34 8.93 L99.34 8.42 L99.87 7.38 L100.41 6.86 L101.47 6.34 L103.59 6.34 L104.66 6.86 L105.19 7.38 L105.72 8.42 L105.72 9.45 L105.19 10.49 L104.13 12.05 L98.81 17.24 L106.25 17.24M7.83 230.64 L26 230.64M7.83 230.64 L26 218.74M7.83 218.74 L26 218.74M21.31 210.6 L21.85 212.18 L23.46 213.23 L26.14 213.76 L27.75 213.76 L30.43 213.23 L32.04 212.18 L32.57 210.6 L32.57 209.54 L32.04 207.96 L30.43 206.91 L27.75 206.38 L26.14 206.38 L23.46 206.91 L21.85 207.96 L21.31 209.54 L21.31 210.6M7.85 202.69 L7.85 193.21M3.56 187.94 L3.03 186.88 L1.42 185.3 L12.68 185.3M7.84 167.81 L26 167.81M16.48 167.81 L14.76 169.51 L13.89 171.21 L13.89 173.76 L14.75 175.46 L16.48 177.16 L19.08 178.01 L20.81 178.01 L23.4 177.16 L25.13 175.46 L26 173.76 L26 171.21 L25.14 169.51 L23.41 167.81M7.84 161.01 L26 161.01M7.84 161.01 L26 149.11M7.84 149.11 L26 149.11M4.38 136.36 L6.11 138.06 L8.7 139.76 L12.16 141.46 L16.48 142.31 L19.95 142.31 L24.27 141.46 L27.73 139.76 L30.32 138.06 L32.05 136.36M7.84 130.41 L26 130.41M7.84 130.41 L7.84 119.36M16.48 130.41 L16.48 123.61M26 130.41 L26 119.36M4.38 115.11 L6.11 113.41 L8.7 111.71 L12.16 110.01 L16.49 109.16 L19.95 109.16 L24.27 110.01 L27.73 111.71 L30.33 113.41 L32.06 115.11M4.38 88.76 L32.06 104.06M7.84 74.31 L26 74.31M16.49 74.31 L14.76 76.01 L13.89 77.71 L13.89 80.26 L14.76 81.96 L16.49 83.66 L19.08 84.51 L20.81 84.51 L23.41 83.66 L25.14 81.96 L26 80.26 L26 77.71 L25.14 76.01 L23.41 74.31M7.84 67.51 L26 67.51M7.84 67.51 L7.84 56.46M16.49 67.51 L16.49 60.71M26 67.51 L26 56.46M436.76 259.92 L438.48 259.08 L441.05 256.57 L441.05 274.15M456.48 256.57 L453.9 257.41 L452.19 259.92 L451.33 264.11 L451.33 266.62 L452.19 270.8 L453.9 273.31 L456.48 274.15 L458.19 274.15 L460.76 273.31 L462.47 270.8 L463.33 266.62 L463.33 264.11 L462.47 259.92 L460.76 257.41 L458.19 256.57 L456.48 256.57M468.03 256.59 L477.59 256.59M483.97 250.36 L482.37 250.88 L481.84 251.92 L481.84 252.96 L482.37 254 L483.44 254.51 L485.56 255.03 L487.16 255.55 L488.22 256.59 L488.75 257.63 L488.75 259.18 L488.22 260.22 L487.69 260.74 L486.09 261.26 L483.97 261.26 L482.37 260.74 L481.84 260.22 L481.31 259.18 L481.31 257.63 L481.84 256.59 L482.91 255.55 L484.5 255.03 L486.63 254.51 L487.69 254 L488.22 252.96 L488.22 251.92 L487.69 250.88 L486.09 250.36 L483.97 250.36M436.76 226.55 L438.48 225.72 L441.05 223.21 L441.05 240.78M456.48 223.21 L453.9 224.04 L452.19 226.55 L451.33 230.74 L451.33 233.25 L452.19 237.44 L453.9 239.95 L456.48 240.78 L458.19 240.78 L460.76 239.95 L462.47 237.44 L463.33 233.25 L463.33 230.74 L462.47 226.55 L460.76 224.04 L458.19 223.21 L456.48 223.21M468.03 223.22 L477.59 223.22M488.75 217 L483.44 227.89M481.31 217 L488.75 217M436.76 182.89 L438.48 182.05 L441.05 179.54 L441.05 197.12M456.48 179.54 L453.9 180.38 L452.19 182.89 L451.33 187.07 L451.33 189.58 L452.19 193.77 L453.9 196.28 L456.48 197.12 L458.19 197.12 L460.76 196.28 L462.47 193.77 L463.33 189.58 L463.33 187.07 L462.47 182.89 L460.76 180.38 L458.19 179.54 L456.48 179.54M468.03 179.56 L477.59 179.56M488.22 174.89 L487.69 173.85 L486.09 173.33 L485.03 173.33 L483.44 173.85 L482.37 175.4 L481.84 178 L481.84 180.59 L482.37 182.67 L483.44 183.71 L485.03 184.23 L485.56 184.23 L487.16 183.71 L488.22 182.67 L488.75 181.11 L488.75 180.59 L488.22 179.04 L487.16 178 L485.56 177.48 L485.03 177.48 L483.44 178 L482.37 179.04 L481.84 180.59M436.76 139.22 L438.48 138.38 L441.05 135.87 L441.05 153.45M456.48 135.87 L453.9 136.71 L452.19 139.22 L451.33 143.41 L451.33 145.92 L452.19 150.1 L453.9 152.61 L456.48 153.45 L458.19 153.45 L460.76 152.61 L462.47 150.1 L463.33 145.92 L463.33 143.41 L462.47 139.22 L460.76 136.71 L458.19 135.87 L456.48 135.87M468.03 135.89 L477.59 135.89M487.69 129.66 L482.37 129.66 L481.84 134.33 L482.37 133.81 L483.97 133.3 L485.56 133.3 L487.16 133.81 L488.22 134.85 L488.75 136.41 L488.75 137.45 L488.22 139 L487.16 140.04 L485.56 140.56 L483.97 140.56 L482.37 140.04 L481.84 139.52 L481.31 138.48M436.76 95.55 L438.48 94.72 L441.05 92.21 L441.05 109.78M456.48 92.21 L453.9 93.04 L452.19 95.55 L451.33 99.74 L451.33 102.25 L452.19 106.44 L453.9 108.95 L456.48 109.78 L458.19 109.78 L460.76 108.95 L462.47 106.44 L463.33 102.25 L463.33 99.74 L462.47 95.55 L460.76 93.04 L458.19 92.21 L456.48 92.21M468.03 92.22 L477.59 92.22M486.63 86 L481.31 93.26 L489.28 93.26M486.63 86 L486.63 96.89M436.76 51.89 L438.48 51.05 L441.05 48.54 L441.05 66.12M456.48 48.54 L453.9 49.38 L452.19 51.89 L451.33 56.07 L451.33 58.58 L452.19 62.77 L453.9 65.28 L456.48 66.12 L458.19 66.12 L460.76 65.28 L462.47 62.77 L463.33 58.58 L463.33 56.07 L462.47 51.89 L460.76 49.38 L458.19 48.54 L456.48 48.54M468.03 48.56 L477.59 48.56M482.37 42.33 L488.22 42.33 L485.03 46.48 L486.63 46.48 L487.69 47 L488.22 47.52 L488.75 49.08 L488.75 50.11 L488.22 51.67 L487.16 52.71 L485.56 53.23 L483.97 53.23 L482.37 52.71 L481.84 52.19 L481.31 51.15M436.76 15.9 L438.48 15.06 L441.05 12.55 L441.05 30.13M456.48 12.55 L453.9 13.39 L452.19 15.9 L451.33 20.08 L451.33 22.59 L452.19 26.78 L453.9 29.29 L456.48 30.13 L458.19 30.13 L460.76 29.29 L462.47 26.78 L463.33 22.59 L463.33 20.08 L462.47 15.9 L460.76 13.39 L458.19 12.55 L456.48 12.55M468.03 12.57 L477.59 12.57M481.84 8.93 L481.84 8.42 L482.37 7.38 L482.91 6.86 L483.97 6.34 L486.09 6.34 L487.16 6.86 L487.69 7.38 L488.22 8.42 L488.22 9.45 L487.69 10.49 L486.63 12.05 L481.31 17.24 L488.75 17.24M54.27 528.07 L55.98 527.23 L58.55 524.72 L58.55 542.3M73.98 524.72 L71.41 525.56 L69.69 528.07 L68.83 532.26 L68.83 534.77 L69.69 538.95 L71.41 541.46 L73.98 542.3 L75.69 542.3 L78.26 541.46 L79.97 538.95 L80.83 534.77 L80.83 532.26 L79.97 528.07 L78.26 525.56 L75.69 524.72 L73.98 524.72M85.53 524.74 L95.09 524.74M101.47 518.51 L99.87 519.03 L99.34 520.07 L99.34 521.11 L99.87 522.15 L100.94 522.66 L103.06 523.18 L104.66 523.7 L105.72 524.74 L106.25 525.78 L106.25 527.33 L105.72 528.37 L105.19 528.89 L103.59 529.41 L101.47 529.41 L99.87 528.89 L99.34 528.37 L98.81 527.33 L98.81 525.78 L99.34 524.74 L100.41 523.7 L102 523.18 L104.13 522.66 L105.19 522.15 L105.72 521.11 L105.72 520.07 L105.19 519.03 L103.59 518.51 L101.47 518.51M54.27 494.7 L55.98 493.87 L58.55 491.36 L58.55 508.93M73.98 491.36 L71.41 492.19 L69.69 494.7 L68.83 498.89 L68.83 501.4 L69.69 505.59 L71.41 508.1 L73.98 508.93 L75.69 508.93 L78.26 508.1 L79.97 505.59 L80.83 501.4 L80.83 498.89 L79.97 494.7 L78.26 492.19 L75.69 491.36 L73.98 491.36M85.53 491.37 L95.09 491.37M106.25 485.15 L100.94 496.04M98.81 485.15 L106.25 485.15M54.27 451.04 L55.98 450.2 L58.55 447.69 L58.55 465.27M73.98 447.69 L71.41 448.53 L69.69 451.04 L68.83 455.22 L68.83 457.73 L69.69 461.92 L71.41 464.43 L73.98 465.27 L75.69 465.27 L78.26 464.43 L79.97 461.92 L80.83 457.73 L80.83 455.22 L79.97 451.04 L78.26 448.53 L75.69 447.69 L73.98 447.69M85.53 447.71 L95.09 447.71M105.72 443.04 L105.19 442 L103.59 441.48 L102.53 441.48 L100.94 442 L99.87 443.55 L99.34 446.15 L99.34 448.74 L99.87 450.82 L100.94 451.86 L102.53 452.38 L103.06 452.38 L104.66 451.86 L105.72 450.82 L106.25 449.26 L106.25 448.74 L105.72 447.19 L104.66 446.15 L103.06 445.63 L102.53 445.63 L100.94 446.15 L99.87 447.19 L99.34 448.74M54.27 407.37 L55.98 406.53 L58.55 404.02 L58.55 421.6M73.98 404.02 L71.41 404.86 L69.69 407.37 L68.83 411.56 L68.83 414.07 L69.69 418.25 L71.41 420.76 L73.98 421.6 L75.69 421.6 L78.26 420.76 L79.97 418.25 L80.83 414.07 L80.83 411.56 L79.97 407.37 L78.26 404.86 L75.69 404.02 L73.98 404.02M85.53 404.04 L95.09 404.04M105.19 397.81 L99.87 397.81 L99.34 402.48 L99.87 401.96 L101.47 401.45 L103.06 401.45 L104.66 401.96 L105.72 403 L106.25 404.56 L106.25 405.6 L105.72 407.15 L104.66 408.19 L103.06 408.71 L101.47 408.71 L99.87 408.19 L99.34 407.67 L98.81 406.63M54.27 363.7 L55.98 362.87 L58.55 360.36 L58.55 377.93M73.98 360.36 L71.41 361.19 L69.69 363.7 L68.83 367.89 L68.83 370.4 L69.69 374.59 L71.41 377.1 L73.98 377.93 L75.69 377.93 L78.26 377.1 L79.97 374.59 L80.83 370.4 L80.83 367.89 L79.97 363.7 L78.26 361.19 L75.69 360.36 L73.98 360.36M85.53 360.37 L95.09 360.37M104.13 354.15 L98.81 361.41 L106.78 361.41M104.13 354.15 L104.13 365.04M54.27 320.04 L55.98 319.2 L58.55 316.69 L58.55 334.27M73.98 316.69 L71.41 317.53 L69.69 320.04 L68.83 324.22 L68.83 326.73 L69.69 330.92 L71.41 333.43 L73.98 334.27 L75.69 334.27 L78.26 333.43 L79.97 330.92 L80.83 326.73 L80.83 324.22 L79.97 320.04 L78.26 317.53 L75.69 316.69 L73.98 316.69M85.53 316.71 L95.09 316.71M99.87 310.48 L105.72 310.48 L102.53 314.63 L104.13 314.63 L105.19 315.15 L105.72 315.67 L106.25 317.23 L106.25 318.26 L105.72 319.82 L104.66 320.86 L103.06 321.38 L101.47 321.38 L99.87 320.86 L99.34 320.34 L98.81 319.3M54.27 284.05 L55.98 283.21 L58.55 280.7 L58.55 298.28M73.98 280.7 L71.41 281.54 L69.69 284.05 L68.83 288.23 L68.83 290.74 L69.69 294.93 L71.41 297.44 L73.98 298.28 L75.69 298.28 L78.26 297.44 L79.97 294.93 L80.83 290.74 L80.83 288.23 L79.97 284.05 L78.26 281.54 L75.69 280.7 L73.98 280.7M85.53 280.72 L95.09 280.72M99.34 277.08 L99.34 276.57 L99.87 275.53 L100.41 275.01 L101.47 274.49 L103.59 274.49 L104.66 275.01 L105.19 275.53 L105.72 276.57 L105.72 277.6 L105.19 278.64 L104.13 280.2 L98.81 285.39 L106.25 285.39M91.48 566.97 L93.2 566.13 L95.77 563.62 L95.77 581.2M111.19 563.62 L108.62 564.46 L106.91 566.97 L106.05 571.16 L106.05 573.67 L106.91 577.85 L108.62 580.36 L111.19 581.2 L112.91 581.2 L115.48 580.36 L117.19 577.85 L118.05 573.67 L118.05 571.16 L117.19 566.97 L115.48 564.46 L112.91 563.62 L111.19 563.62M122.74 563.64 L132.31 563.64M136.56 560.01 L136.56 559.49 L137.09 558.45 L137.62 557.93 L138.68 557.41 L140.81 557.41 L141.87 557.93 L142.4 558.45 L142.94 559.49 L142.94 560.53 L142.4 561.56 L141.34 563.12 L136.03 568.31 L143.47 568.31M168.43 566.97 L170.15 566.13 L172.72 563.62 L172.72 581.2M188.14 563.62 L185.57 564.46 L183.86 566.97 L183 571.16 L183 573.67 L183.86 577.85 L185.57 580.36 L188.14 581.2 L189.86 581.2 L192.43 580.36 L194.14 577.85 L195 573.67 L195 571.16 L194.14 566.97 L192.43 564.46 L189.86 563.62 L188.14 563.62M199.69 563.64 L209.26 563.64M214.57 559.49 L215.63 558.97 L217.23 557.41 L217.23 568.31M252.29 566.97 L254 566.13 L256.57 563.62 L256.57 581.2M272 563.62 L269.43 564.46 L267.71 566.97 L266.86 571.16 L266.86 573.67 L267.71 577.85 L269.43 580.36 L272 581.2 L273.71 581.2 L276.28 580.36 L278 577.85 L278.86 573.67 L278.86 571.16 L278 566.97 L276.28 564.46 L273.71 563.62 L272 563.62M286.21 557.41 L284.61 557.93 L283.55 559.49 L283.02 562.08 L283.02 563.64 L283.55 566.23 L284.61 567.79 L286.21 568.31 L287.27 568.31 L288.87 567.79 L289.93 566.23 L290.46 563.64 L290.46 562.08 L289.93 559.49 L288.87 557.93 L287.27 557.41 L286.21 557.41M329.24 566.97 L330.95 566.13 L333.52 563.62 L333.52 581.2M348.95 563.62 L346.38 564.46 L344.66 566.97 L343.81 571.16 L343.81 573.67 L344.66 577.85 L346.38 580.36 L348.95 581.2 L350.66 581.2 L353.23 580.36 L354.95 577.85 L355.81 573.67 L355.81 571.16 L354.95 566.97 L353.23 564.46 L350.66 563.62 L348.95 563.62M361.56 559.49 L362.63 558.97 L364.22 557.41 L364.22 568.31M406.19 566.97 L407.9 566.13 L410.47 563.62 L410.47 581.2M425.9 563.62 L423.33 564.46 L421.61 566.97 L420.76 571.16 L420.76 573.67 L421.61 577.85 L423.33 580.36 L425.9 581.2 L427.61 581.2 L430.18 580.36 L431.9 577.85 L432.76 573.67 L432.76 571.16 L431.9 566.97 L430.18 564.46 L427.61 563.62 L425.9 563.62M437.45 560.01 L437.45 559.49 L437.98 558.45 L438.51 557.93 L439.58 557.41 L441.7 557.41 L442.77 557.93 L443.3 558.45 L443.83 559.49 L443.83 560.53 L443.3 561.56 L442.23 563.12 L436.92 568.31 L444.36 568.31M220.56 596.92 L220.56 614.5M220.56 596.92 L231.64 596.92M220.56 605.29 L227.38 605.29M220.56 614.5 L231.64 614.5M256.34 593.58 L254.64 595.25 L252.94 597.76 L251.23 601.11 L250.38 605.29 L250.38 608.64 L251.23 612.83 L252.94 616.17 L254.64 618.68 L256.34 620.36M262.31 596.92 L262.31 614.5M262.31 596.92 L269.12 614.5M275.94 596.92 L269.12 614.5M275.94 596.92 L275.94 614.5M281.9 607.8 L292.13 607.8 L292.13 606.13 L291.28 604.46 L290.42 603.62 L288.72 602.78 L286.16 602.78 L284.46 603.62 L282.76 605.29 L281.9 607.8 L281.9 609.48 L282.76 611.99 L284.46 613.66 L286.16 614.5 L288.72 614.5 L290.42 613.66 L292.13 611.99M295.54 596.92 L302.35 614.5M309.17 596.92 L302.35 614.5M312.58 593.58 L314.28 595.25 L315.98 597.76 L317.69 601.11 L318.54 605.29 L318.54 608.64 L317.69 612.83 L315.98 616.17 L314.28 618.68 L312.58 620.36M7.83 498.79 L26 498.79M7.83 498.79 L26 486.89M7.83 486.89 L26 486.89M21.31 478.75 L21.85 480.33 L23.46 481.38 L26.14 481.91 L27.75 481.91 L30.43 481.38 L32.04 480.33 L32.57 478.75 L32.57 477.69 L32.04 476.11 L30.43 475.06 L27.75 474.53 L26.14 474.53 L23.46 475.06 L21.85 476.11 L21.31 477.69 L21.31 478.75M7.85 470.84 L7.85 461.36M3.56 456.09 L3.03 455.03 L1.42 453.45 L12.68 453.45M7.84 435.96 L26 435.96M16.48 435.96 L14.76 437.66 L13.89 439.36 L13.89 441.91 L14.75 443.61 L16.48 445.31 L19.08 446.16 L20.81 446.16 L23.4 445.31 L25.13 443.61 L26 441.91 L26 439.36 L25.14 437.66 L23.41 435.96M7.84 429.16 L26 429.16M7.84 429.16 L26 417.26M7.84 417.26 L26 417.26M4.38 404.51 L6.11 406.21 L8.7 407.91 L12.16 409.61 L16.48 410.46 L19.95 410.46 L24.27 409.61 L27.73 407.91 L30.32 406.21 L32.05 404.51M7.84 398.56 L26 398.56M7.84 398.56 L7.84 387.51M16.48 398.56 L16.48 391.76M26 398.56 L26 387.51M4.38 383.26 L6.11 381.56 L8.7 379.86 L12.16 378.16 L16.49 377.31 L19.95 377.31 L24.27 378.16 L27.73 379.86 L30.33 381.56 L32.06 383.26M4.38 356.91 L32.06 372.21M7.84 342.46 L26 342.46M16.49 342.46 L14.76 344.16 L13.89 345.86 L13.89 348.41 L14.76 350.11 L16.49 351.81 L19.08 352.66 L20.81 352.66 L23.41 351.81 L25.14 350.11 L26 348.41 L26 345.86 L25.14 344.16 L23.41 342.46M7.84 335.66 L26 335.66M7.84 335.66 L7.84 324.61M16.49 335.66 L16.49 328.86M26 335.66 L26 324.61M436.76 528.07 L438.48 527.23 L441.05 524.72 L441.05 542.3M456.48 524.72 L453.9 525.56 L452.19 528.07 L451.33 532.26 L451.33 534.77 L452.19 538.95 L453.9 541.46 L456.48 542.3 L458.19 542.3 L460.76 541.46 L462.47 538.95 L463.33 534.77 L463.33 532.26 L462.47 528.07 L460.76 525.56 L458.19 524.72 L456.48 524.72M468.03 524.74 L477.59 524.74M483.97 518.51 L482.37 519.03 L481.84 520.07 L481.84 521.11 L482.37 522.15 L483.44 522.66 L485.56 523.18 L487.16 523.7 L488.22 524.74 L488.75 525.78 L488.75 527.33 L488.22 528.37 L487.69 528.89 L486.09 529.41 L483.97 529.41 L482.37 528.89 L481.84 528.37 L481.31 527.33 L481.31 525.78 L481.84 524.74 L482.91 523.7 L484.5 523.18 L486.63 522.66 L487.69 522.15 L488.22 521.11 L488.22 520.07 L487.69 519.03 L486.09 518.51 L483.97 518.51M436.76 494.7 L438.48 493.87 L441.05 491.36 L441.05 508.93M456.48 491.36 L453.9 492.19 L452.19 494.7 L451.33 498.89 L451.33 501.4 L452.19 505.59 L453.9 508.1 L456.48 508.93 L458.19 508.93 L460.76 508.1 L462.47 505.59 L463.33 501.4 L463.33 498.89 L462.47 494.7 L460.76 492.19 L458.19 491.36 L456.48 491.36M468.03 491.37 L477.59 491.37M488.75 485.15 L483.44 496.04M481.31 485.15 L488.75 485.15M436.76 451.04 L438.48 450.2 L441.05 447.69 L441.05 465.27M456.48 447.69 L453.9 448.53 L452.19 451.04 L451.33 455.22 L451.33 457.73 L452.19 461.92 L453.9 464.43 L456.48 465.27 L458.19 465.27 L460.76 464.43 L462.47 461.92 L463.33 457.73 L463.33 455.22 L462.47 451.04 L460.76 448.53 L458.19 447.69 L456.48 447.69M468.03 447.71 L477.59 447.71M488.22 443.04 L487.69 442 L486.09 441.48 L485.03 441.48 L483.44 442 L482.37 443.55 L481.84 446.15 L481.84 448.74 L482.37 450.82 L483.44 451.86 L485.03 452.38 L485.56 452.38 L487.16 451.86 L488.22 450.82 L488.75 449.26 L488.75 448.74 L488.22 447.19 L487.16 446.15 L485.56 445.63 L485.03 445.63 L483.44 446.15 L482.37 447.19 L481.84 448.74M436.76 407.37 L438.48 406.53 L441.05 404.02 L441.05 421.6M456.48 404.02 L453.9 404.86 L452.19 407.37 L451.33 411.56 L451.33 414.07 L452.19 418.25 L453.9 420.76 L456.48 421.6 L458.19 421.6 L460.76 420.76 L462.47 418.25 L463.33 414.07 L463.33 411.56 L462.47 407.37 L460.76 404.86 L458.19 404.02 L456.48 404.02M468.03 404.04 L477.59 404.04M487.69 397.81 L482.37 397.81 L481.84 402.48 L482.37 401.96 L483.97 401.45 L485.56 401.45 L487.16 401.96 L488.22 403 L488.75 404.56 L488.75 405.6 L488.22 407.15 L487.16 408.19 L485.56 408.71 L483.97 408.71 L482.37 408.19 L481.84 407.67 L481.31 406.63M436.76 363.7 L438.48 362.87 L441.05 360.36 L441.05 377.93M456.48 360.36 L453.9 361.19 L452.19 363.7 L451.33 367.89 L451.33 370.4 L452.19 374.59 L453.9 377.1 L456.48 377.93 L458.19 377.93 L460.76 377.1 L462.47 374.59 L463.33 370.4 L463.33 367.89 L462.47 363.7 L460.76 361.19 L458.19 360.36 L456.48 360.36M468.03 360.37 L477.59 360.37M486.63 354.15 L481.31 361.41 L489.28 361.41M486.63 354.15 L486.63 365.04M436.76 320.04 L438.48 319.2 L441.05 316.69 L441.05 334.27M456.48 316.69 L453.9 317.53 L452.19 320.04 L451.33 324.22 L451.33 326.73 L452.19 330.92 L453.9 333.43 L456.48 334.27 L458.19 334.27 L460.76 333.43 L462.47 330.92 L463.33 326.73 L463.33 324.22 L462.47 320.04 L460.76 317.53 L458.19 316.69 L456.48 316.69M468.03 316.71 L477.59 316.71M482.37 310.48 L488.22 310.48 L485.03 314.63 L486.63 314.63 L487.69 315.15 L488.22 315.67 L488.75 317.23 L488.75 318.26 L488.22 319.82 L487.16 320.86 L485.56 321.38 L483.97 321.38 L482.37 320.86 L481.84 320.34 L481.31 319.3M436.76 284.05 L438.48 283.21 L441.05 280.7 L441.05 298.28M456.48 280.7 L453.9 281.54 L452.19 284.05 L451.33 288.23 L451.33 290.74 L452.19 294.93 L453.9 297.44 L456.48 298.28 L458.19 298.28 L460.76 297.44 L462.47 294.93 L463.33 290.74 L463.33 288.23 L462.47 284.05 L460.76 281.54 L458.19 280.7 L456.48 280.7M468.03 280.72 L477.59 280.72M481.84 277.08 L481.84 276.57 L482.37 275.53 L482.91 275.01 L483.97 274.49 L486.09 274.49 L487.16 275.01 L487.69 275.53 L488.22 276.57 L488.22 277.6 L487.69 278.64 L486.63 280.2 L481.31 285.39 L488.75 285.39M473.98 566.97 L475.7 566.13 L478.27 563.62 L478.27 581.2M493.69 563.62 L491.12 564.46 L489.41 566.97 L488.55 571.16 L488.55 573.67 L489.41 577.85 L491.12 580.36 L493.69 581.2 L495.41 581.2 L497.98 580.36 L499.69 577.85 L500.55 573.67 L500.55 571.16 L499.69 566.97 L497.98 564.46 L495.41 563.62 L493.69 563.62M505.24 563.64 L514.81 563.64M519.06 560.01 L519.06 559.49 L519.59 558.45 L520.12 557.93 L521.18 557.41 L523.31 557.41 L524.37 557.93 L524.9 558.45 L525.44 559.49 L525.44 560.53 L524.9 561.56 L523.84 563.12 L518.53 568.31 L525.97 568.31M550.86 566.97 L552.57 566.13 L555.14 563.62 L555.14 581.2M570.57 563.62 L568 564.46 L566.28 566.97 L565.43 571.16 L565.43 573.67 L566.28 577.85 L568 580.36 L570.57 581.2 L572.28 581.2 L574.85 580.36 L576.57 577.85 L577.42 573.67 L577.42 571.16 L576.57 566.97 L574.85 564.46 L572.28 563.62 L570.57 563.62M582.12 563.64 L591.68 563.64M597 559.49 L598.06 558.97 L599.65 557.41 L599.65 568.31M634.64 566.97 L636.35 566.13 L638.92 563.62 L638.92 581.2M654.35 563.62 L651.78 564.46 L650.06 566.97 L649.21 571.16 L649.21 573.67 L650.06 577.85 L651.78 580.36 L654.35 581.2 L656.06 581.2 L658.63 580.36 L660.35 577.85 L661.21 573.67 L661.21 571.16 L660.35 566.97 L658.63 564.46 L656.06 563.62 L654.35 563.62M668.56 557.41 L666.96 557.93 L665.9 559.49 L665.37 562.08 L665.37 563.64 L665.9 566.23 L666.96 567.79 L668.56 568.31 L669.62 568.31 L671.22 567.79 L672.28 566.23 L672.81 563.64 L672.81 562.08 L672.28 559.49 L671.22 557.93 L669.62 557.41 L668.56 557.41M711.51 566.97 L713.23 566.13 L715.8 563.62 L715.8 581.2M731.22 563.62 L728.65 564.46 L726.94 566.97 L726.08 571.16 L726.08 573.67 L726.94 577.85 L728.65 580.36 L731.22 581.2 L732.94 581.2 L735.51 580.36 L737.22 577.85 L738.08 573.67 L738.08 571.16 L737.22 566.97 L735.51 564.46 L732.94 563.62 L731.22 563.62M743.84 559.49 L744.9 558.97 L746.5 557.41 L746.5 568.31M788.39 566.97 L790.1 566.13 L792.67 563.62 L792.67 581.2M808.1 563.62 L805.53 564.46 L803.81 566.97 L802.96 571.16 L802.96 573.67 L803.81 577.85 L805.53 580.36 L808.1 581.2 L809.81 581.2 L812.38 580.36 L814.1 577.85 L814.96 573.67 L814.96 571.16 L814.1 566.97 L812.38 564.46 L809.81 563.62 L808.1 563.62M819.65 560.01 L819.65 559.49 L820.18 558.45 L820.71 557.93 L821.78 557.41 L823.9 557.41 L824.97 557.93 L825.5 558.45 L826.03 559.49 L826.03 560.53 L825.5 561.56 L824.43 563.12 L819.12 568.31 L826.56 568.31M602.91 596.92 L602.91 614.5M602.91 596.92 L613.99 596.92M602.91 605.29 L609.73 605.29M602.91 614.5 L613.99 614.5M638.69 593.58 L636.99 595.25 L635.29 597.76 L633.58 601.11 L632.73 605.29 L632.73 608.64 L633.58 612.83 L635.29 616.17 L636.99 618.68 L638.69 620.36M644.66 596.92 L644.66 614.5M644.66 596.92 L651.47 614.5M658.29 596.92 L651.47 614.5M658.29 596.92 L658.29 614.5M664.25 607.8 L674.48 607.8 L674.48 606.13 L673.63 604.46 L672.77 603.62 L671.07 602.78 L668.51 602.78 L666.81 603.62 L665.11 605.29 L664.25 607.8 L664.25 609.48 L665.11 611.99 L666.81 613.66 L668.51 614.5 L671.07 614.5 L672.77 613.66 L674.48 611.99M677.89 596.92 L684.7 614.5M691.52 596.92 L684.7 614.5M694.93 593.58 L696.63 595.25 L698.33 597.76 L700.04 601.11 L700.89 605.29 L700.89 608.64 L700.04 612.83 L698.33 616.17 L696.63 618.68 L694.93 620.36" fill="none" stroke="#000" stroke-width="1.12" stroke-linejoin="round" stroke-linecap="butt"/>
<path d="M152.39 221.68 L152.39 234 L153.12 236.18 L154.58 236.9 L156.04 236.9M150.2 226.75 L155.31 226.75M160.42 228.2 L173.56 228.2M160.42 232.55 L173.56 232.55M180.86 224.58 L182.32 223.85 L184.51 221.68 L184.51 236.9M197.65 221.68 L195.46 222.4 L194 224.58 L193.27 228.2 L193.27 230.38 L194 234 L195.46 236.18 L197.65 236.9 L199.11 236.9 L201.3 236.18 L202.76 234 L203.49 230.38 L203.49 228.2 L202.76 224.58 L201.3 222.4 L199.11 221.68 L197.65 221.68M220.28 226.75 L220.28 236.9M220.28 229.65 L222.47 227.47 L223.93 226.75 L226.12 226.75 L227.58 227.47 L228.31 229.65 L228.31 236.9M228.31 229.65 L230.5 227.47 L231.96 226.75 L234.15 226.75 L235.61 227.47 L236.34 229.65 L236.34 236.9M249.48 228.93 L248.75 227.47 L246.56 226.75 L244.37 226.75 L242.18 227.47 L241.45 228.93 L242.18 230.38 L243.64 231.1 L247.29 231.83 L248.75 232.55 L249.48 234 L249.48 234.72 L248.75 236.18 L246.56 236.9 L244.37 236.9 L242.18 236.18 L241.45 234.72M195.1 101.83 L195.1 117.05M195.1 101.83 L204.59 101.83M195.1 109.08 L200.94 109.08M195.1 117.05 L204.59 117.05M534.89 221.68 L534.89 234 L535.62 236.18 L537.08 236.9 L538.54 236.9M532.7 226.75 L537.81 226.75M542.92 228.2 L556.06 228.2M542.92 232.55 L556.06 232.55M563.36 224.58 L564.82 223.85 L567.01 221.68 L567.01 236.9M580.15 221.68 L577.96 222.4 L576.5 224.58 L575.77 228.2 L575.77 230.38 L576.5 234 L577.96 236.18 L580.15 236.9 L581.61 236.9 L583.8 236.18 L585.26 234 L585.99 230.38 L585.99 228.2 L585.26 224.58 L583.8 222.4 L581.61 221.68 L580.15 221.68M599.13 221.68 L591.83 221.68 L591.1 228.2 L591.83 227.47 L594.02 226.75 L596.21 226.75 L598.4 227.47 L599.86 228.93 L600.59 231.1 L600.59 232.55 L599.86 234.72 L598.4 236.18 L596.21 236.9 L594.02 236.9 L591.83 236.18 L591.1 235.45 L590.37 234M617.38 226.75 L617.38 236.9M617.38 229.65 L619.57 227.47 L621.03 226.75 L623.22 226.75 L624.68 227.47 L625.41 229.65 L625.41 236.9M625.41 229.65 L627.6 227.47 L629.06 226.75 L631.25 226.75 L632.71 227.47 L633.44 229.65 L633.44 236.9M646.58 228.93 L645.85 227.47 L643.66 226.75 L641.47 226.75 L639.28 227.47 L638.55 228.93 L639.28 230.38 L640.74 231.1 L644.39 231.83 L645.85 232.55 L646.58 234 L646.58 234.72 L645.85 236.18 L643.66 236.9 L641.47 236.9 L639.28 236.18 L638.55 234.72M577.6 115.08 L577.6 130.3M577.6 115.08 L587.09 115.08M577.6 122.33 L583.44 122.33M577.6 130.3 L587.09 130.3M152.39 489.82 L152.39 502.15 L153.12 504.32 L154.58 505.05 L156.04 505.05M150.2 494.9 L155.31 494.9M160.42 496.35 L173.56 496.35M160.42 500.7 L173.56 500.7M179.4 493.45 L179.4 492.73 L180.13 491.28 L180.86 490.55 L182.32 489.82 L185.24 489.82 L186.7 490.55 L187.43 491.28 L188.16 492.73 L188.16 494.18 L187.43 495.62 L185.97 497.8 L178.67 505.05 L188.89 505.05M202.03 489.82 L194.73 489.82 L194 496.35 L194.73 495.62 L196.92 494.9 L199.11 494.9 L201.3 495.62 L202.76 497.07 L203.49 499.25 L203.49 500.7 L202.76 502.88 L201.3 504.32 L199.11 505.05 L196.92 505.05 L194.73 504.32 L194 503.6 L193.27 502.15M212.25 489.82 L210.06 490.55 L208.6 492.73 L207.87 496.35 L207.87 498.53 L208.6 502.15 L210.06 504.32 L212.25 505.05 L213.71 505.05 L215.9 504.32 L217.36 502.15 L218.09 498.53 L218.09 496.35 L217.36 492.73 L215.9 490.55 L213.71 489.82 L212.25 489.82M234.88 494.9 L234.88 505.05M234.88 497.8 L237.07 495.62 L238.53 494.9 L240.72 494.9 L242.18 495.62 L242.91 497.8 L242.91 505.05M242.91 497.8 L245.1 495.62 L246.56 494.9 L248.75 494.9 L250.21 495.62 L250.94 497.8 L250.94 505.05M264.08 497.07 L263.35 495.62 L261.16 494.9 L258.97 494.9 L256.78 495.62 L256.05 497.07 L256.78 498.53 L258.24 499.25 L261.89 499.98 L263.35 500.7 L264.08 502.15 L264.08 502.88 L263.35 504.32 L261.16 505.05 L258.97 505.05 L256.78 504.32 L256.05 502.88M195.1 383.23 L195.1 398.45M195.1 383.23 L204.59 383.23M195.1 390.48 L200.94 390.48M195.1 398.45 L204.59 398.45M534.89 489.82 L534.89 502.15 L535.62 504.32 L537.08 505.05 L538.54 505.05M532.7 494.9 L537.81 494.9M542.92 496.35 L556.06 496.35M542.92 500.7 L556.06 500.7M568.47 489.82 L561.17 499.98 L572.12 499.98M568.47 489.82 L568.47 505.05M585.26 494.9 L584.53 497.07 L583.07 498.53 L580.88 499.25 L580.15 499.25 L577.96 498.53 L576.5 497.07 L575.77 494.9 L575.77 494.18 L576.5 492 L577.96 490.55 L580.15 489.82 L580.88 489.82 L583.07 490.55 L584.53 492 L585.26 494.9 L585.26 498.53 L584.53 502.15 L583.07 504.32 L580.88 505.05 L579.42 505.05 L577.23 504.32 L576.5 502.88M599.13 489.82 L591.83 489.82 L591.1 496.35 L591.83 495.62 L594.02 494.9 L596.21 494.9 L598.4 495.62 L599.86 497.07 L600.59 499.25 L600.59 500.7 L599.86 502.88 L598.4 504.32 L596.21 505.05 L594.02 505.05 L591.83 504.32 L591.1 503.6 L590.37 502.15M617.38 494.9 L617.38 505.05M617.38 497.8 L619.57 495.62 L621.03 494.9 L623.22 494.9 L624.68 495.62 L625.41 497.8 L625.41 505.05M625.41 497.8 L627.6 495.62 L629.06 494.9 L631.25 494.9 L632.71 495.62 L633.44 497.8 L633.44 505.05M646.58 497.07 L645.85 495.62 L643.66 494.9 L641.47 494.9 L639.28 495.62 L638.55 497.07 L639.28 498.53 L640.74 499.25 L644.39 499.98 L645.85 500.7 L646.58 502.15 L646.58 502.88 L645.85 504.32 L643.66 505.05 L641.47 505.05 L639.28 504.32 L638.55 502.88M577.6 383.23 L577.6 398.45M577.6 383.23 L587.09 383.23M577.6 390.48 L583.44 390.48M577.6 398.45 L587.09 398.45" fill="none" stroke="#000" stroke-width="1.0" stroke-linejoin="round" stroke-linecap="butt"/>
<path d="M269.56 260 L278.7 260M269.56 260 L269.56 254.34M273.91 260 L273.91 256.52M278.7 260 L278.7 254.34M276.34 250.61 L276.61 251.42 L277.42 251.96 L278.77 252.23 L279.58 252.23 L280.93 251.96 L281.74 251.42 L282.01 250.61 L282.01 250.07 L281.74 249.26 L280.93 248.72 L279.58 248.46 L278.77 248.46 L277.42 248.72 L276.61 249.26 L276.34 250.07 L276.34 250.61M273.48 245.91 L273.48 238.08M276.09 245.91 L276.09 238.08M271.31 233.73 L270.87 232.86 L269.56 231.55 L278.7 231.55M277.83 225.46 L278.26 225.9 L278.7 225.46 L278.26 225.03 L277.83 225.46M269.56 216.76 L269.56 221.11 L273.48 221.55 L273.05 221.11 L272.61 219.81 L272.61 218.5 L273.05 217.2 L273.91 216.33 L275.22 215.89 L276.09 215.89 L277.39 216.33 L278.26 217.2 L278.7 218.5 L278.7 219.81 L278.26 221.11 L277.83 221.55 L276.96 221.98M272.61 207.63 L273.91 208.06 L274.78 208.93 L275.22 210.24 L275.22 210.67 L274.78 211.98 L273.91 212.85 L272.61 213.28 L272.18 213.28 L270.87 212.85 L270 211.98 L269.56 210.67 L269.56 210.24 L270 208.93 L270.87 208.06 L272.61 207.63 L274.78 207.63 L276.96 208.06 L278.26 208.93 L278.7 210.24 L278.7 211.11 L278.26 212.41 L277.39 212.85M269.56 197.19 L278.7 197.19M269.56 197.19 L278.7 193.71M269.56 190.23 L278.7 193.71M269.56 190.23 L278.7 190.23M275.22 187.18 L275.22 181.96 L274.35 181.96 L273.48 182.4 L273.05 182.83 L272.61 183.7 L272.61 185.01 L273.05 185.88 L273.91 186.75 L275.22 187.18 L276.09 187.18 L277.39 186.75 L278.26 185.88 L278.7 185.01 L278.7 183.7 L278.26 182.83 L277.39 181.96M269.56 180.22 L278.7 176.74M269.56 173.26 L278.7 176.74M695.37 260 L704.5 260M695.37 260 L695.37 254.34M699.72 260 L699.72 256.52M704.5 260 L704.5 254.34M702.14 250.61 L702.41 251.42 L703.22 251.96 L704.57 252.23 L705.38 252.23 L706.73 251.96 L707.54 251.42 L707.81 250.61 L707.81 250.07 L707.54 249.26 L706.73 248.72 L705.38 248.46 L704.57 248.46 L703.22 248.72 L702.41 249.26 L702.14 250.07 L702.14 250.61M699.28 245.91 L699.28 238.08M701.89 245.91 L701.89 238.08M695.37 229.81 L695.37 234.16 L699.28 234.6 L698.85 234.16 L698.41 232.86 L698.41 231.55 L698.85 230.25 L699.72 229.38 L701.02 228.94 L701.89 228.94 L703.2 229.38 L704.07 230.25 L704.5 231.55 L704.5 232.86 L704.07 234.16 L703.63 234.6 L702.76 235.03M703.63 225.46 L704.07 225.9 L704.5 225.46 L704.07 225.03 L703.63 225.46M697.54 221.55 L697.11 221.55 L696.24 221.11 L695.8 220.68 L695.37 219.81 L695.37 218.07 L695.8 217.2 L696.24 216.76 L697.11 216.33 L697.98 216.33 L698.85 216.76 L700.15 217.63 L704.5 221.98 L704.5 215.89M698.41 207.63 L699.72 208.06 L700.59 208.93 L701.02 210.24 L701.02 210.67 L700.59 211.98 L699.72 212.85 L698.41 213.28 L697.98 213.28 L696.67 212.85 L695.8 211.98 L695.37 210.67 L695.37 210.24 L695.8 208.93 L696.67 208.06 L698.41 207.63 L700.59 207.63 L702.76 208.06 L704.07 208.93 L704.5 210.24 L704.5 211.11 L704.07 212.41 L703.2 212.85M695.37 197.19 L704.5 197.19M695.37 197.19 L704.5 193.71M695.37 190.23 L704.5 193.71M695.37 190.23 L704.5 190.23M701.02 187.18 L701.02 181.96 L700.15 181.96 L699.28 182.4 L698.85 182.83 L698.41 183.7 L698.41 185.01 L698.85 185.88 L699.72 186.75 L701.02 187.18 L701.89 187.18 L703.2 186.75 L704.07 185.88 L704.5 185.01 L704.5 183.7 L704.07 182.83 L703.2 181.96M695.37 180.22 L704.5 176.74M695.37 173.26 L704.5 176.74M334.97 528.15 L344.1 528.15M334.97 528.15 L334.97 522.5M339.31 528.15 L339.31 524.67M344.1 528.15 L344.1 522.5M341.74 518.76 L342.01 519.57 L342.82 520.11 L344.17 520.38 L344.98 520.38 L346.33 520.11 L347.14 519.57 L347.41 518.76 L347.41 518.22 L347.14 517.41 L346.33 516.87 L344.98 516.61 L344.17 516.61 L342.82 516.87 L342.01 517.41 L341.74 518.22 L341.74 518.76M338.88 514.06 L338.88 506.23M341.49 514.06 L341.49 506.23M336.71 501.88 L336.27 501.01 L334.97 499.7 L344.1 499.7M336.71 493.18 L336.27 492.31 L334.97 491 L344.1 491M343.23 484.91 L343.67 485.35 L344.1 484.91 L343.67 484.48 L343.23 484.91M334.97 478.82 L335.4 480.13 L336.71 481 L338.88 481.43 L340.19 481.43 L342.36 481 L343.67 480.13 L344.1 478.82 L344.1 477.95 L343.67 476.65 L342.36 475.78 L340.19 475.34 L338.88 475.34 L336.71 475.78 L335.4 476.65 L334.97 477.95 L334.97 478.82M336.71 471.43 L336.27 470.56 L334.97 469.25 L344.1 469.25M334.97 456.64 L344.1 456.64M334.97 456.64 L344.1 453.16M334.97 449.68 L344.1 453.16M334.97 449.68 L344.1 449.68M340.62 446.63 L340.62 441.41 L339.75 441.41 L338.88 441.85 L338.45 442.28 L338.01 443.15 L338.01 444.46 L338.45 445.33 L339.31 446.2 L340.62 446.63 L341.49 446.63 L342.8 446.2 L343.67 445.33 L344.1 444.46 L344.1 443.15 L343.67 442.28 L342.8 441.41M334.97 439.67 L344.1 436.19M334.97 432.71 L344.1 436.19M741.57 528.15 L750.7 528.15M741.57 528.15 L741.57 522.5M745.92 528.15 L745.92 524.67M750.7 528.15 L750.7 522.5M748.34 518.76 L748.61 519.57 L749.42 520.11 L750.77 520.38 L751.58 520.38 L752.93 520.11 L753.74 519.57 L754.01 518.76 L754.01 518.22 L753.74 517.41 L752.93 516.87 L751.58 516.61 L750.77 516.61 L749.42 516.87 L748.61 517.41 L748.34 518.22 L748.34 518.76M745.48 514.06 L745.48 506.23M748.09 514.06 L748.09 506.23M743.74 502.75 L743.31 502.75 L742.44 502.31 L742 501.88 L741.57 501.01 L741.57 499.27 L742 498.4 L742.44 497.96 L743.31 497.53 L744.18 497.53 L745.05 497.96 L746.35 498.83 L750.7 503.18 L750.7 497.09M743.31 493.18 L742.87 492.31 L741.57 491 L750.7 491M749.83 484.91 L750.27 485.35 L750.7 484.91 L750.27 484.48 L749.83 484.91M742.87 475.78 L742 476.21 L741.57 477.52 L741.57 478.39 L742 479.69 L743.31 480.56 L745.48 481 L747.66 481 L749.4 480.56 L750.27 479.69 L750.7 478.39 L750.7 477.95 L750.27 476.65 L749.4 475.78 L748.09 475.34 L747.66 475.34 L746.35 475.78 L745.48 476.65 L745.05 477.95 L745.05 478.39 L745.48 479.69 L746.35 480.56 L747.66 481M741.57 466.64 L750.7 470.99M741.57 472.73 L741.57 466.64M741.57 456.64 L750.7 456.64M741.57 456.64 L750.7 453.16M741.57 449.68 L750.7 453.16M741.57 449.68 L750.7 449.68M747.22 446.63 L747.22 441.41 L746.35 441.41 L745.48 441.85 L745.05 442.28 L744.61 443.15 L744.61 444.46 L745.05 445.33 L745.92 446.2 L747.22 446.63 L748.09 446.63 L749.4 446.2 L750.27 445.33 L750.7 444.46 L750.7 443.15 L750.27 442.28 L749.4 441.41M741.57 439.67 L750.7 436.19M741.57 432.71 L750.7 436.19" fill="none" stroke="#000" stroke-width="0.75" stroke-linejoin="round" stroke-linecap="round"/>
<path d="M208.59 101.84 L216.74 101.84M222.62 96.45 L221.26 96.9 L220.36 98.24 L219.91 100.49 L219.91 101.84 L220.36 104.09 L221.26 105.44 L222.62 105.89 L223.53 105.89 L224.88 105.44 L225.79 104.09 L226.24 101.84 L226.24 100.49 L225.79 98.24 L224.88 96.9 L223.53 96.45 L222.62 96.45M229.86 104.99 L229.41 105.44 L229.86 105.89 L230.32 105.44 L229.86 104.99M235.75 96.45 L234.39 96.9 L233.94 97.79 L233.94 98.69 L234.39 99.59 L235.29 100.04 L237.1 100.49 L238.46 100.94 L239.37 101.84 L239.82 102.74 L239.82 104.09 L239.37 104.99 L238.91 105.44 L237.56 105.89 L235.75 105.89 L234.39 105.44 L233.94 104.99 L233.48 104.09 L233.48 102.74 L233.94 101.84 L234.84 100.94 L236.2 100.49 L238.01 100.04 L238.91 99.59 L239.37 98.69 L239.37 97.79 L238.91 96.9 L237.56 96.45 L235.75 96.45M247.97 96.45 L243.44 96.45 L242.99 100.49 L243.44 100.04 L244.8 99.59 L246.16 99.59 L247.51 100.04 L248.42 100.94 L248.87 102.29 L248.87 103.19 L248.42 104.54 L247.51 105.44 L246.16 105.89 L244.8 105.89 L243.44 105.44 L242.99 104.99 L242.54 104.09M591.09 115.09 L599.24 115.09M605.12 109.7 L603.76 110.15 L602.86 111.49 L602.41 113.74 L602.41 115.09 L602.86 117.34 L603.76 118.69 L605.12 119.14 L606.03 119.14 L607.38 118.69 L608.29 117.34 L608.74 115.09 L608.74 113.74 L608.29 111.49 L607.38 110.15 L606.03 109.7 L605.12 109.7M612.36 118.24 L611.91 118.69 L612.36 119.14 L612.82 118.69 L612.36 118.24M618.25 109.7 L616.89 110.15 L616.44 111.04 L616.44 111.94 L616.89 112.84 L617.79 113.29 L619.6 113.74 L620.96 114.19 L621.87 115.09 L622.32 115.99 L622.32 117.34 L621.87 118.24 L621.41 118.69 L620.06 119.14 L618.25 119.14 L616.89 118.69 L616.44 118.24 L615.98 117.34 L615.98 115.99 L616.44 115.09 L617.34 114.19 L618.7 113.74 L620.51 113.29 L621.41 112.84 L621.87 111.94 L621.87 111.04 L621.41 110.15 L620.06 109.7 L618.25 109.7M626.39 111.49 L627.3 111.04 L628.66 109.7 L628.66 119.14M208.59 383.24 L216.74 383.24M222.62 377.85 L221.26 378.3 L220.36 379.64 L219.91 381.89 L219.91 383.24 L220.36 385.49 L221.26 386.84 L222.62 387.29 L223.53 387.29 L224.88 386.84 L225.79 385.49 L226.24 383.24 L226.24 381.89 L225.79 379.64 L224.88 378.3 L223.53 377.85 L222.62 377.85M229.86 386.39 L229.41 386.84 L229.86 387.29 L230.32 386.84 L229.86 386.39M235.75 377.85 L234.39 378.3 L233.94 379.19 L233.94 380.09 L234.39 380.99 L235.29 381.44 L237.1 381.89 L238.46 382.34 L239.37 383.24 L239.82 384.14 L239.82 385.49 L239.37 386.39 L238.91 386.84 L237.56 387.29 L235.75 387.29 L234.39 386.84 L233.94 386.39 L233.48 385.49 L233.48 384.14 L233.94 383.24 L234.84 382.34 L236.2 381.89 L238.01 381.44 L238.91 380.99 L239.37 380.09 L239.37 379.19 L238.91 378.3 L237.56 377.85 L235.75 377.85M244.8 377.85 L243.44 378.3 L242.99 379.19 L242.99 380.09 L243.44 380.99 L244.35 381.44 L246.16 381.89 L247.51 382.34 L248.42 383.24 L248.87 384.14 L248.87 385.49 L248.42 386.39 L247.97 386.84 L246.61 387.29 L244.8 387.29 L243.44 386.84 L242.99 386.39 L242.54 385.49 L242.54 384.14 L242.99 383.24 L243.89 382.34 L245.25 381.89 L247.06 381.44 L247.97 380.99 L248.42 380.09 L248.42 379.19 L247.97 378.3 L246.61 377.85 L244.8 377.85M591.09 383.24 L599.24 383.24M605.12 377.85 L603.76 378.3 L602.86 379.64 L602.41 381.89 L602.41 383.24 L602.86 385.49 L603.76 386.84 L605.12 387.29 L606.03 387.29 L607.38 386.84 L608.29 385.49 L608.74 383.24 L608.74 381.89 L608.29 379.64 L607.38 378.3 L606.03 377.85 L605.12 377.85M612.36 386.39 L611.91 386.84 L612.36 387.29 L612.82 386.84 L612.36 386.39M621.87 380.99 L621.41 382.34 L620.51 383.24 L619.15 383.69 L618.7 383.69 L617.34 383.24 L616.44 382.34 L615.98 380.99 L615.98 380.54 L616.44 379.19 L617.34 378.3 L618.7 377.85 L619.15 377.85 L620.51 378.3 L621.41 379.19 L621.87 380.99 L621.87 383.24 L621.41 385.49 L620.51 386.84 L619.15 387.29 L618.25 387.29 L616.89 386.84 L616.44 385.94M630.92 379.19 L630.47 378.3 L629.11 377.85 L628.2 377.85 L626.85 378.3 L625.94 379.64 L625.49 381.89 L625.49 384.14 L625.94 385.94 L626.85 386.84 L628.2 387.29 L628.66 387.29 L630.01 386.84 L630.92 385.94 L631.37 384.59 L631.37 384.14 L630.92 382.79 L630.01 381.89 L628.66 381.44 L628.2 381.44 L626.85 381.89 L625.94 382.79 L625.49 384.14" fill="none" stroke="#000" stroke-width="1.15" stroke-linejoin="round" stroke-linecap="round"/>
</svg>
</body></html>
